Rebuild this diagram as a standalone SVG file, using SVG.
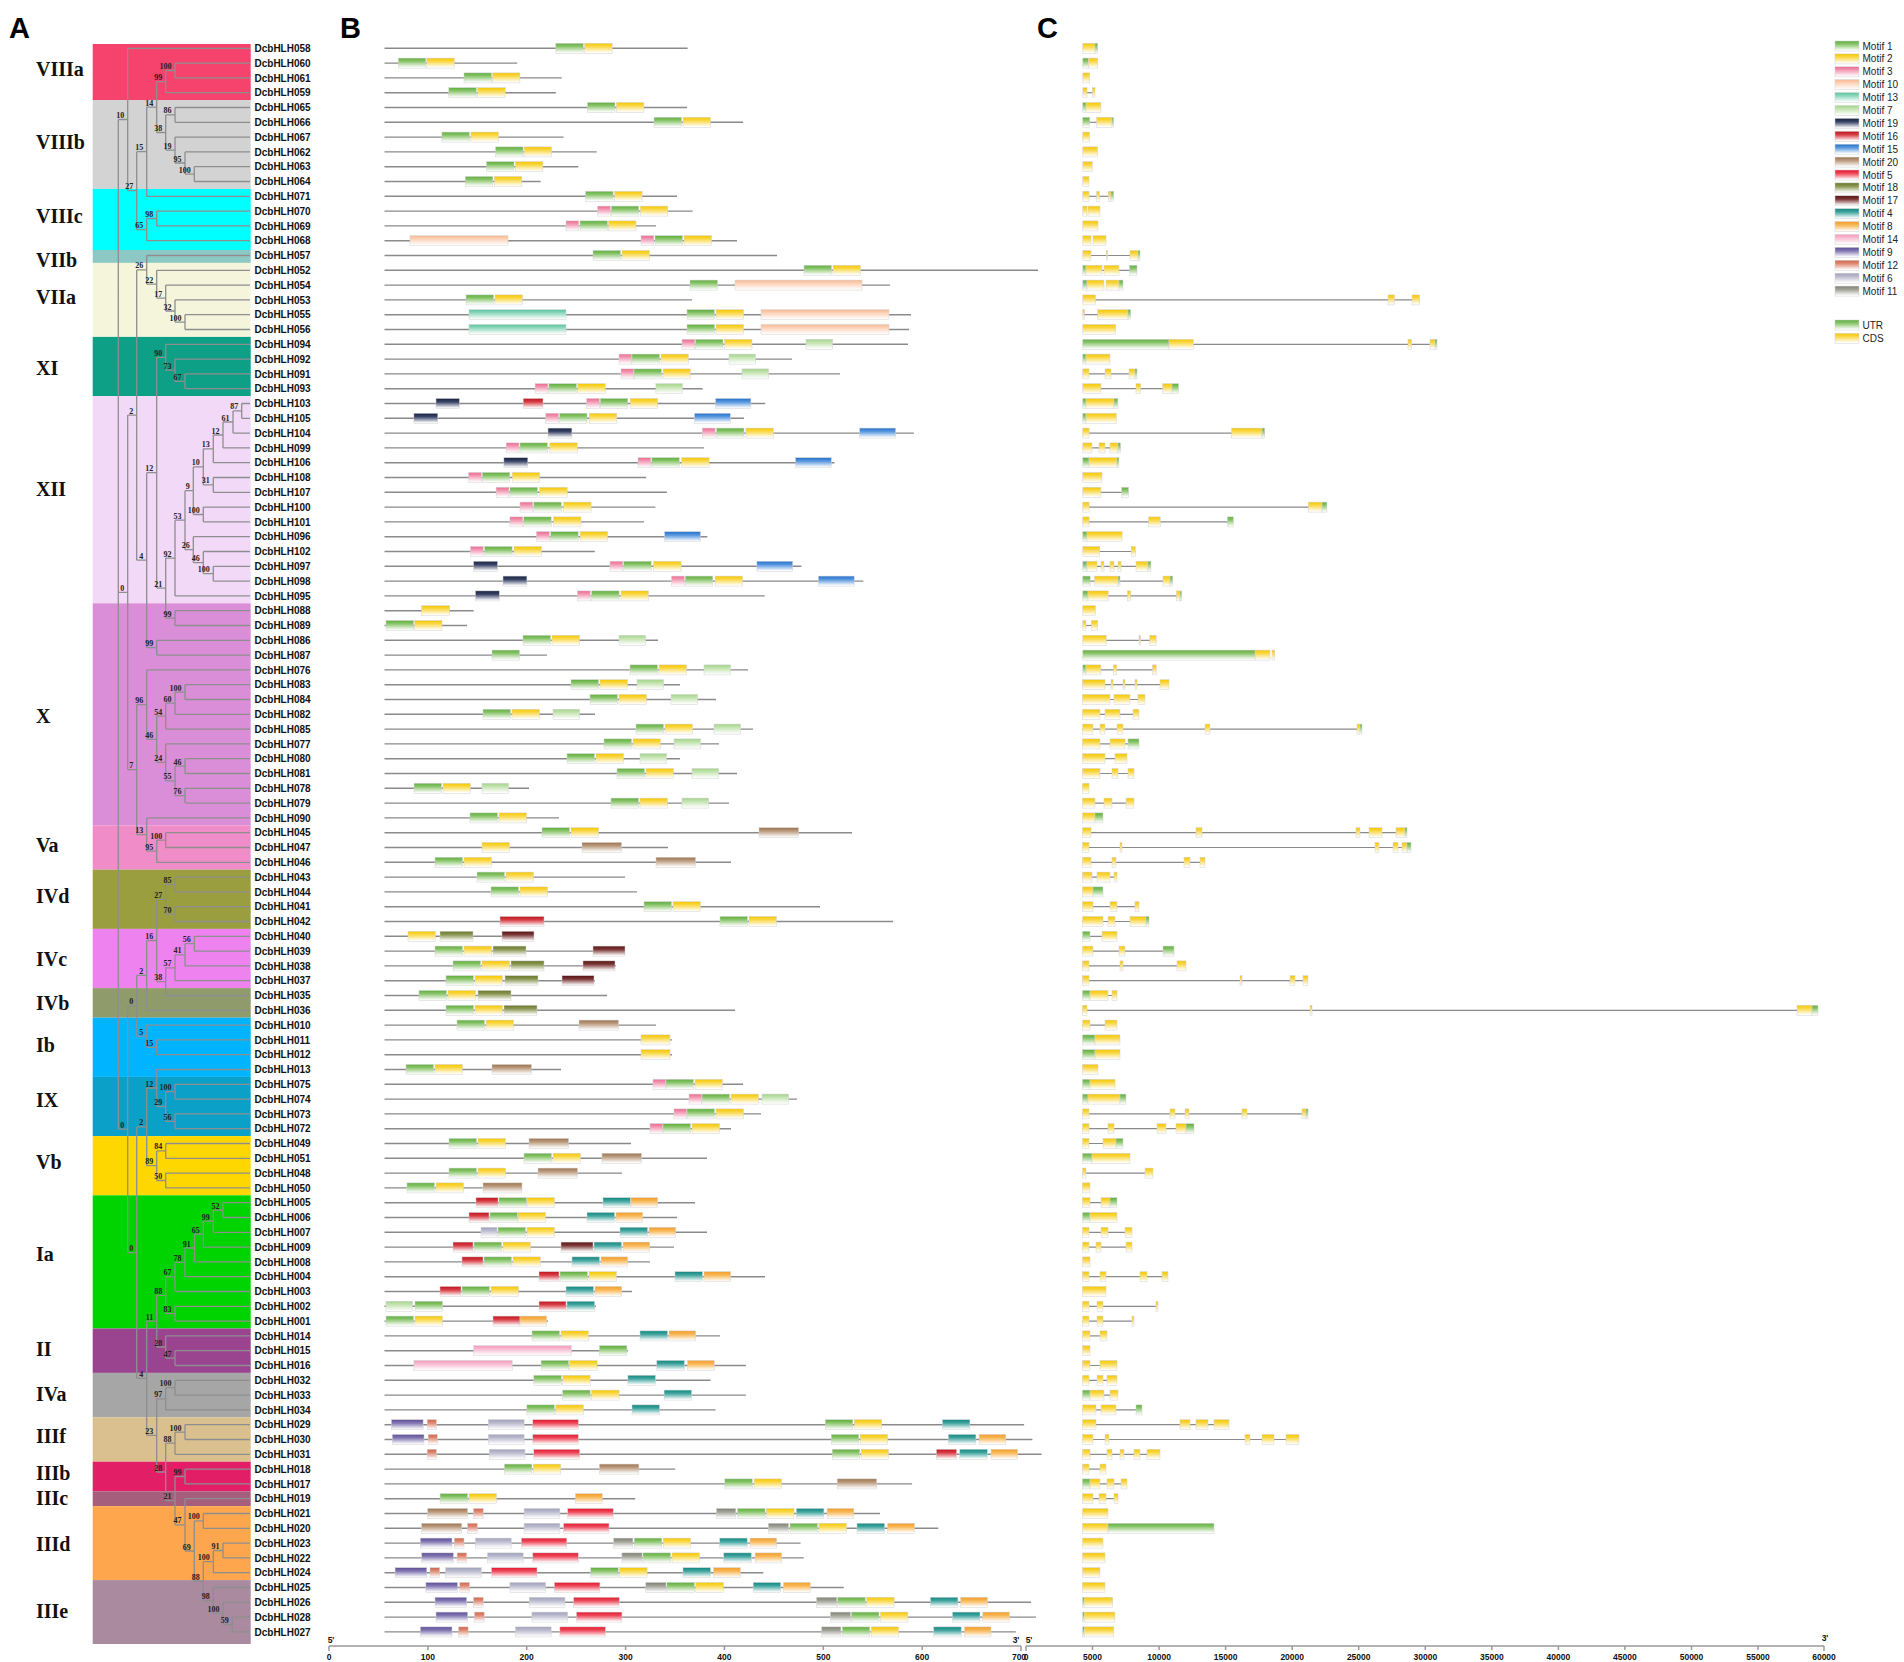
<svg xmlns="http://www.w3.org/2000/svg" width="1904" height="1662" viewBox="0 0 1904 1662">
<defs>
<linearGradient id="g1" x1="0" y1="0" x2="0" y2="1"><stop offset="0" stop-color="#5FAE40"/><stop offset=".3" stop-color="#86C366"/><stop offset=".95" stop-color="#fff"/></linearGradient>
<linearGradient id="g2" x1="0" y1="0" x2="0" y2="1"><stop offset="0" stop-color="#F5C800"/><stop offset=".3" stop-color="#F9D640"/><stop offset=".95" stop-color="#fff"/></linearGradient>
<linearGradient id="g3" x1="0" y1="0" x2="0" y2="1"><stop offset="0" stop-color="#EC6A90"/><stop offset=".3" stop-color="#F294B0"/><stop offset=".95" stop-color="#fff"/></linearGradient>
<linearGradient id="g10" x1="0" y1="0" x2="0" y2="1"><stop offset="0" stop-color="#F9B890"/><stop offset=".3" stop-color="#FCD0B4"/><stop offset=".95" stop-color="#fff"/></linearGradient>
<linearGradient id="g13" x1="0" y1="0" x2="0" y2="1"><stop offset="0" stop-color="#58C49C"/><stop offset=".3" stop-color="#8AD6BA"/><stop offset=".95" stop-color="#fff"/></linearGradient>
<linearGradient id="g7" x1="0" y1="0" x2="0" y2="1"><stop offset="0" stop-color="#A2D488"/><stop offset=".3" stop-color="#C0E2AC"/><stop offset=".95" stop-color="#fff"/></linearGradient>
<linearGradient id="g19" x1="0" y1="0" x2="0" y2="1"><stop offset="0" stop-color="#18223F"/><stop offset=".35" stop-color="#3A4568"/><stop offset=".95" stop-color="#fff"/></linearGradient>
<linearGradient id="g16" x1="0" y1="0" x2="0" y2="1"><stop offset="0" stop-color="#C0121C"/><stop offset=".35" stop-color="#D84048"/><stop offset=".95" stop-color="#fff"/></linearGradient>
<linearGradient id="g15" x1="0" y1="0" x2="0" y2="1"><stop offset="0" stop-color="#2470CC"/><stop offset=".35" stop-color="#5A98DE"/><stop offset=".95" stop-color="#fff"/></linearGradient>
<linearGradient id="g20" x1="0" y1="0" x2="0" y2="1"><stop offset="0" stop-color="#9C7450"/><stop offset=".35" stop-color="#BC9C80"/><stop offset=".95" stop-color="#fff"/></linearGradient>
<linearGradient id="g5" x1="0" y1="0" x2="0" y2="1"><stop offset="0" stop-color="#E4182F"/><stop offset=".35" stop-color="#EE4A5C"/><stop offset=".95" stop-color="#fff"/></linearGradient>
<linearGradient id="g18" x1="0" y1="0" x2="0" y2="1"><stop offset="0" stop-color="#687828"/><stop offset=".35" stop-color="#8C9856"/><stop offset=".95" stop-color="#fff"/></linearGradient>
<linearGradient id="g17" x1="0" y1="0" x2="0" y2="1"><stop offset="0" stop-color="#561010"/><stop offset=".35" stop-color="#7E3A3A"/><stop offset=".95" stop-color="#fff"/></linearGradient>
<linearGradient id="g4" x1="0" y1="0" x2="0" y2="1"><stop offset="0" stop-color="#108880"/><stop offset=".35" stop-color="#44A6A0"/><stop offset=".95" stop-color="#fff"/></linearGradient>
<linearGradient id="g8" x1="0" y1="0" x2="0" y2="1"><stop offset="0" stop-color="#F49C28"/><stop offset=".35" stop-color="#F8B858"/><stop offset=".95" stop-color="#fff"/></linearGradient>
<linearGradient id="g14" x1="0" y1="0" x2="0" y2="1"><stop offset="0" stop-color="#F49ABA"/><stop offset=".35" stop-color="#F8BCD2"/><stop offset=".95" stop-color="#fff"/></linearGradient>
<linearGradient id="g9" x1="0" y1="0" x2="0" y2="1"><stop offset="0" stop-color="#5E4E98"/><stop offset=".35" stop-color="#8478B2"/><stop offset=".95" stop-color="#fff"/></linearGradient>
<linearGradient id="g12" x1="0" y1="0" x2="0" y2="1"><stop offset="0" stop-color="#D0644A"/><stop offset=".35" stop-color="#E08C78"/><stop offset=".95" stop-color="#fff"/></linearGradient>
<linearGradient id="g6" x1="0" y1="0" x2="0" y2="1"><stop offset="0" stop-color="#A0A0BA"/><stop offset=".35" stop-color="#BCBCD0"/><stop offset=".95" stop-color="#fff"/></linearGradient>
<linearGradient id="g11" x1="0" y1="0" x2="0" y2="1"><stop offset="0" stop-color="#7E8074"/><stop offset=".35" stop-color="#A2A498"/><stop offset=".95" stop-color="#fff"/></linearGradient>
</defs>
<style>
.lbl{font:bold 10px "Liberation Sans",Arial,sans-serif;fill:#111}
.cl{font:bold 20px "Liberation Serif","Times New Roman",serif;fill:#111}
.bs{font:bold 8px "Liberation Serif","Times New Roman",serif;fill:#222;text-anchor:end}
.pl{font:bold 29px "Liberation Sans",Arial,sans-serif;fill:#000}
.tr{fill:none;stroke:#8e8e8e;stroke-width:1.3}
.ln{stroke:#8a8a8a;stroke-width:1.4;fill:none}
.in{stroke:#8a8a8a;stroke-width:1.2;fill:none}
.ax{font:bold 8.5px "Liberation Sans",Arial,sans-serif;fill:#111;text-anchor:middle}
.lg{font:10px "Liberation Sans",Arial,sans-serif;fill:#222}
.axl{stroke:#9a9a9a;stroke-width:1.5;fill:none}
#genes rect,#legend rect{stroke:#d2d2d2;stroke-width:.5}
.m1,.u{fill:url(#g1)}.m2,.c{fill:url(#g2)}.m3{fill:url(#g3)}.m10{fill:url(#g10)}.m13{fill:url(#g13)}.m7{fill:url(#g7)}.m19{fill:url(#g19)}.m16{fill:url(#g16)}.m15{fill:url(#g15)}.m20{fill:url(#g20)}.m5{fill:url(#g5)}.m18{fill:url(#g18)}.m17{fill:url(#g17)}.m4{fill:url(#g4)}.m8{fill:url(#g8)}.m14{fill:url(#g14)}.m9{fill:url(#g9)}.m12{fill:url(#g12)}.m6{fill:url(#g6)}.m11{fill:url(#g11)}
</style>
<rect width="1904" height="1662" fill="#fff"/>
<g id="panel-labels">
<text class="pl" x="9" y="38">A</text>
<text class="pl" x="340" y="38">B</text>
<text class="pl" x="1037" y="38">C</text>
</g>
<g id="clades">
<rect x="92.7" y="44" width="158" height="56" fill="#F5436D"/>
<rect x="92.7" y="100" width="158" height="88.9" fill="#D3D3D3"/>
<rect x="92.7" y="188.9" width="158" height="61.1" fill="#00FFFF"/>
<rect x="92.7" y="250" width="158" height="12.9" fill="#8CC8C4"/>
<rect x="92.7" y="262.9" width="158" height="74" fill="#F5F5DC"/>
<rect x="92.7" y="336.9" width="158" height="59.2" fill="#0E9F87"/>
<rect x="92.7" y="396.1" width="158" height="207.2" fill="#F3D9F8"/>
<rect x="92.7" y="603.3" width="158" height="222" fill="#DA8ED8"/>
<rect x="92.7" y="825.3" width="158" height="44.4" fill="#F08CC8"/>
<rect x="92.7" y="869.7" width="158" height="59.2" fill="#9A9E3E"/>
<rect x="92.7" y="928.9" width="158" height="59.2" fill="#EE82EE"/>
<rect x="92.7" y="988.1" width="158" height="29.6" fill="#8F9B6B"/>
<rect x="92.7" y="1017.7" width="158" height="59.2" fill="#00B4FF"/>
<rect x="92.7" y="1076.9" width="158" height="59.2" fill="#0AA0C8"/>
<rect x="92.7" y="1136.1" width="158" height="59.2" fill="#FFD700"/>
<rect x="92.7" y="1195.3" width="158" height="133.2" fill="#00D400"/>
<rect x="92.7" y="1328.5" width="158" height="44.4" fill="#9A4490"/>
<rect x="92.7" y="1372.9" width="158" height="44.4" fill="#A6A6A6"/>
<rect x="92.7" y="1417.3" width="158" height="44.4" fill="#D9C08E"/>
<rect x="92.7" y="1461.7" width="158" height="29.6" fill="#E21E66"/>
<rect x="92.7" y="1491.3" width="158" height="14.8" fill="#A55E7C"/>
<rect x="92.7" y="1506.1" width="158" height="74" fill="#FDA64E"/>
<rect x="92.7" y="1580.1" width="158" height="63.9" fill="#A98A9F"/>
<text class="cl" x="36" y="75.8">VIIIa</text>
<text class="cl" x="36" y="148.7">VIIIb</text>
<text class="cl" x="36" y="222.7">VIIIc</text>
<text class="cl" x="36" y="266.5">VIIb</text>
<text class="cl" x="36" y="304.1">VIIa</text>
<text class="cl" x="36" y="374.5">XI</text>
<text class="cl" x="36" y="496">XII</text>
<text class="cl" x="36" y="723">X</text>
<text class="cl" x="36" y="851.8">Va</text>
<text class="cl" x="36" y="902.8">IVd</text>
<text class="cl" x="36" y="965.9">IVc</text>
<text class="cl" x="36" y="1009.6">IVb</text>
<text class="cl" x="36" y="1052.1">Ib</text>
<text class="cl" x="36" y="1106.8">IX</text>
<text class="cl" x="36" y="1168.7">Vb</text>
<text class="cl" x="36" y="1261">Ia</text>
<text class="cl" x="36" y="1355.7">II</text>
<text class="cl" x="36" y="1400.6">IVa</text>
<text class="cl" x="36" y="1443.1">IIIf</text>
<text class="cl" x="36" y="1479.6">IIIb</text>
<text class="cl" x="36" y="1505.1">IIIc</text>
<text class="cl" x="36" y="1551.2">IIId</text>
<text class="cl" x="36" y="1618">IIIe</text>
</g>
<g id="tree">
<path class="tr" d="M175 63.1V77.9M175 63.1H250M175 77.9H250M165.7 70.5V92.7M165.7 70.5H175M165.7 92.7H250M175 107.5V122.3M175 107.5H250M175 122.3H250M194.3 166.7V181.5M194.3 166.7H250M194.3 181.5H250M185 151.9V174.1M185 151.9H250M185 174.1H194.3M175 137.1V163M175 137.1H250M175 163H185M165.7 114.9V150.1M165.7 114.9H175M165.7 150.1H175M156.7 81.6V132.5M156.7 81.6H165.7M156.7 132.5H165.7M146.7 107.1V196.3M146.7 107.1H156.7M146.7 196.3H250M156.7 211.1V225.9M156.7 211.1H250M156.7 225.9H250M146.7 218.5V240.7M146.7 218.5H156.7M146.7 240.7H250M136.7 151.7V229.6M136.7 151.7H146.7M136.7 229.6H146.7M127.7 48.3V190.7M127.7 48.3H250M127.7 190.7H136.7
M185 314.7V329.5M185 314.7H250M185 329.5H250M175 299.9V322.1M175 299.9H250M175 322.1H185M165.7 285.1V311M165.7 285.1H250M165.7 311H175M156.7 270.3V298.1M156.7 270.3H250M156.7 298.1H165.7M146.7 255.5V284.2M146.7 255.5H250M146.7 284.2H156.7
M185 373.9V388.7M185 373.9H250M185 388.7H250M175 359.1V381.3M175 359.1H250M175 381.3H185M165.7 344.3V370.2M165.7 344.3H250M165.7 370.2H175
M241.7 403.5V418.3M241.7 403.5H250M241.7 418.3H250M233 410.9V433.1M233 410.9H241.7M233 433.1H250M223 422V447.9M223 422H233M223 447.9H250M213.3 435V462.7M213.3 435H223M213.3 462.7H250M213.3 477.5V492.3M213.3 477.5H250M213.3 492.3H250M203.3 448.8V484.9M203.3 448.8H213.3M203.3 484.9H213.3M203.3 507.1V521.9M203.3 507.1H250M203.3 521.9H250M193.3 466.9V514.5M193.3 466.9H203.3M193.3 514.5H203.3M213.3 566.3V581.1M213.3 566.3H250M213.3 581.1H250M203.3 551.5V573.7M203.3 551.5H250M203.3 573.7H213.3M193.3 536.7V562.6M193.3 536.7H250M193.3 562.6H203.3M185 490.7V549.7M185 490.7H193.3M185 549.7H193.3M175 520.2V595.9M175 520.2H185M175 595.9H250M175 610.7V625.5M175 610.7H250M175 625.5H250M165.7 558.1V618.1M165.7 558.1H175M165.7 618.1H175M156.7 357.3V588.1M156.7 357.3H165.7M156.7 588.1H165.7M156.7 640.3V655.1M156.7 640.3H250M156.7 655.1H250M146.7 472.7V647.7M146.7 472.7H156.7M146.7 647.7H156.7M136.7 269.9V560.2M136.7 269.9H146.7M136.7 560.2H146.7
M185 684.7V699.5M185 684.7H250M185 699.5H250M175 692.1V714.3M175 692.1H185M175 714.3H250M165.7 703.2V729.1M165.7 703.2H175M165.7 729.1H250M185 758.7V773.5M185 758.7H250M185 773.5H250M185 788.3V803.1M185 788.3H250M185 803.1H250M175 766.1V795.7M175 766.1H185M175 795.7H185M165.7 743.9V780.9M165.7 743.9H250M165.7 780.9H175M156.7 716.2V762.4M156.7 716.2H165.7M156.7 762.4H165.7M146.7 669.9V739.3M146.7 669.9H250M146.7 739.3H156.7M165.7 832.7V847.5M165.7 832.7H250M165.7 847.5H250M156.7 840.1V862.3M156.7 840.1H165.7M156.7 862.3H250M146.7 817.9V851.2M146.7 817.9H250M146.7 851.2H156.7M136.7 704.6V834.6M136.7 704.6H146.7M136.7 834.6H146.7M127.7 415.1V769.6M127.7 415.1H136.7M127.7 769.6H136.7
M175 877.1V891.9M175 877.1H250M175 891.9H250M175 906.7V921.5M175 906.7H250M175 921.5H250M165.7 884.5V914.1M165.7 884.5H175M165.7 914.1H175M194.3 936.3V951.1M194.3 936.3H250M194.3 951.1H250M185 943.7V965.9M185 943.7H194.3M185 965.9H250M175 954.8V980.7M175 954.8H185M175 980.7H250M165.7 967.8V995.5M165.7 967.8H175M165.7 995.5H250M156.7 899.3V981.6M156.7 899.3H165.7M156.7 981.6H165.7M146.7 940.5V1010.3M146.7 940.5H156.7M146.7 1010.3H250M156.7 1039.9V1054.7M156.7 1039.9H250M156.7 1054.7H250M146.7 1025.1V1047.3M146.7 1025.1H250M146.7 1047.3H156.7M136.7 975.4V1036.2M136.7 975.4H146.7M136.7 1036.2H146.7
M175 1084.3V1099.1M175 1084.3H250M175 1099.1H250M175 1113.9V1128.7M175 1113.9H250M175 1128.7H250M165.7 1091.7V1121.3M165.7 1091.7H175M165.7 1121.3H175M156.7 1069.5V1106.5M156.7 1069.5H250M156.7 1106.5H165.7M165.7 1143.5V1158.3M165.7 1143.5H250M165.7 1158.3H250M165.7 1173.1V1187.9M165.7 1173.1H250M165.7 1187.9H250M156.7 1150.9V1180.5M156.7 1150.9H165.7M156.7 1180.5H165.7M146.7 1088V1165.7M146.7 1088H156.7M146.7 1165.7H156.7
M223 1202.7V1217.5M223 1202.7H250M223 1217.5H250M213.3 1210.1V1232.3M213.3 1210.1H223M213.3 1232.3H250M203.3 1221.2V1247.1M203.3 1221.2H213.3M203.3 1247.1H250M194.3 1234.2V1261.9M194.3 1234.2H203.3M194.3 1261.9H250M185 1248V1276.7M185 1248H194.3M185 1276.7H250M175 1262.4V1291.5M175 1262.4H185M175 1291.5H250M175 1306.3V1321.1M175 1306.3H250M175 1321.1H250M165.7 1276.9V1313.7M165.7 1276.9H175M165.7 1313.7H175M175 1350.7V1365.5M175 1350.7H250M175 1365.5H250M165.7 1335.9V1358.1M165.7 1335.9H250M165.7 1358.1H175M156.7 1295.3V1347M156.7 1295.3H165.7M156.7 1347H165.7
M175 1380.3V1395.1M175 1380.3H250M175 1395.1H250M165.7 1387.7V1409.9M165.7 1387.7H175M165.7 1409.9H250M185 1424.7V1439.5M185 1424.7H250M185 1439.5H250M175 1432.1V1454.3M175 1432.1H185M175 1454.3H250M185 1469.1V1483.9M185 1469.1H250M185 1483.9H250M203.3 1513.5V1528.3M203.3 1513.5H250M203.3 1528.3H250M223 1543.1V1557.9M223 1543.1H250M223 1557.9H250M213.3 1550.5V1572.7M213.3 1550.5H223M213.3 1572.7H250M232.3 1617.1V1631.9M232.3 1617.1H250M232.3 1631.9H250M223 1602.3V1624.5M223 1602.3H250M223 1624.5H232.3M213.3 1587.5V1613.4M213.3 1587.5H250M213.3 1613.4H223M203.3 1561.6V1600.5M203.3 1561.6H213.3M203.3 1600.5H213.3M194.3 1520.9V1581M194.3 1520.9H203.3M194.3 1581H203.3M185 1498.7V1551M185 1498.7H250M185 1551H194.3M175 1476.5V1524.9M175 1476.5H185M175 1524.9H185M165.7 1443.2V1500.7M165.7 1443.2H175M165.7 1500.7H175M156.7 1398.8V1472M156.7 1398.8H165.7M156.7 1472H165.7M146.7 1321.2V1435.4M146.7 1321.2H156.7M146.7 1435.4H156.7M136.7 1126.9V1378.3M136.7 1126.9H146.7M136.7 1378.3H146.7M127.7 1005.8V1252.6M127.7 1005.8H136.7M127.7 1252.6H136.7M118.3 119.5V1129.2M118.3 119.5H127.7M118.3 592.4H127.7M118.3 1129.2H127.7"/>
<text class="bs" x="171.5" y="69">100</text><text class="bs" x="162.2" y="80.1">99</text><text class="bs" x="171.5" y="113.4">86</text><text class="bs" x="190.8" y="172.6">100</text><text class="bs" x="181.5" y="161.5">95</text><text class="bs" x="171.5" y="148.6">19</text><text class="bs" x="162.2" y="131">38</text><text class="bs" x="153.2" y="105.6">14</text><text class="bs" x="143.2" y="150.2">15</text><text class="bs" x="153.2" y="217">98</text><text class="bs" x="143.2" y="228.1">65</text><text class="bs" x="133.2" y="189.2">27</text><text class="bs" x="124.2" y="118">10</text>
<text class="bs" x="143.2" y="268.4">26</text><text class="bs" x="153.2" y="282.7">22</text><text class="bs" x="162.2" y="296.6">17</text><text class="bs" x="171.5" y="309.5">32</text><text class="bs" x="181.5" y="320.6">100</text>
<text class="bs" x="162.2" y="355.8">90</text><text class="bs" x="171.5" y="368.7">73</text><text class="bs" x="181.5" y="379.8">67</text>
<text class="bs" x="238.2" y="409.4">87</text><text class="bs" x="229.5" y="420.5">61</text><text class="bs" x="219.5" y="433.5">12</text><text class="bs" x="209.8" y="447.3">13</text><text class="bs" x="209.8" y="483.4">31</text><text class="bs" x="199.8" y="465.4">10</text><text class="bs" x="199.8" y="513">100</text><text class="bs" x="189.8" y="489.2">9</text><text class="bs" x="209.8" y="572.2">100</text><text class="bs" x="199.8" y="561.1">46</text><text class="bs" x="189.8" y="548.2">26</text><text class="bs" x="181.5" y="518.7">53</text><text class="bs" x="171.5" y="556.6">92</text><text class="bs" x="171.5" y="616.6">99</text><text class="bs" x="162.2" y="586.6">21</text><text class="bs" x="153.2" y="471.2">12</text><text class="bs" x="153.2" y="646.2">99</text><text class="bs" x="143.2" y="558.7">4</text><text class="bs" x="133.2" y="413.5">2</text>
<text class="bs" x="181.5" y="690.6">100</text><text class="bs" x="171.5" y="701.7">60</text><text class="bs" x="162.2" y="714.7">54</text><text class="bs" x="181.5" y="764.6">46</text><text class="bs" x="181.5" y="794.2">76</text><text class="bs" x="171.5" y="779.4">55</text><text class="bs" x="162.2" y="760.9">24</text><text class="bs" x="153.2" y="737.8">46</text><text class="bs" x="143.2" y="703.1">96</text><text class="bs" x="162.2" y="838.6">100</text><text class="bs" x="153.2" y="849.7">95</text><text class="bs" x="143.2" y="833.1">13</text><text class="bs" x="133.2" y="768.1">7</text><text class="bs" x="124.2" y="590.9">0</text>
<text class="bs" x="171.5" y="883">85</text><text class="bs" x="171.5" y="912.6">70</text><text class="bs" x="162.2" y="897.8">27</text><text class="bs" x="190.8" y="942.2">56</text><text class="bs" x="181.5" y="953.3">41</text><text class="bs" x="171.5" y="966.3">57</text><text class="bs" x="162.2" y="980.1">38</text><text class="bs" x="153.2" y="939">16</text><text class="bs" x="143.2" y="973.9">2</text><text class="bs" x="153.2" y="1045.8">15</text><text class="bs" x="143.2" y="1034.7">5</text><text class="bs" x="133.2" y="1004.3">0</text>
<text class="bs" x="171.5" y="1090.2">100</text><text class="bs" x="171.5" y="1119.8">56</text><text class="bs" x="162.2" y="1105">29</text><text class="bs" x="153.2" y="1086.5">12</text><text class="bs" x="162.2" y="1149.4">84</text><text class="bs" x="162.2" y="1179">50</text><text class="bs" x="153.2" y="1164.2">89</text><text class="bs" x="143.2" y="1125.4">2</text>
<text class="bs" x="219.5" y="1208.6">52</text><text class="bs" x="209.8" y="1219.7">99</text><text class="bs" x="199.8" y="1232.7">65</text><text class="bs" x="190.8" y="1246.5">91</text><text class="bs" x="181.5" y="1260.9">78</text><text class="bs" x="171.5" y="1275.4">67</text><text class="bs" x="171.5" y="1312.2">83</text><text class="bs" x="162.2" y="1293.8">88</text><text class="bs" x="171.5" y="1356.6">47</text><text class="bs" x="162.2" y="1345.5">28</text><text class="bs" x="153.2" y="1319.7">11</text>
<text class="bs" x="171.5" y="1386.2">100</text><text class="bs" x="162.2" y="1397.3">97</text><text class="bs" x="181.5" y="1430.6">100</text><text class="bs" x="171.5" y="1441.7">88</text><text class="bs" x="181.5" y="1475">99</text><text class="bs" x="199.8" y="1519.4">100</text><text class="bs" x="219.5" y="1549">91</text><text class="bs" x="209.8" y="1560.1">100</text><text class="bs" x="228.8" y="1623">59</text><text class="bs" x="219.5" y="1611.9">100</text><text class="bs" x="209.8" y="1599">98</text><text class="bs" x="199.8" y="1579.5">88</text><text class="bs" x="190.8" y="1549.5">69</text><text class="bs" x="181.5" y="1523.3">47</text><text class="bs" x="171.5" y="1499.2">21</text><text class="bs" x="162.2" y="1470.5">28</text><text class="bs" x="153.2" y="1433.9">23</text><text class="bs" x="143.2" y="1376.8">4</text><text class="bs" x="133.2" y="1251.1">0</text><text class="bs" x="124.2" y="1127.7">0</text>
</g>
<g id="genes">
<g id="DcbHLH058" transform="translate(0 48.3)"><text class="lbl" x="254.5" y="3.6">DcbHLH058</text><path class="ln" d="M384.5 0H687.6"/><rect class="m1" x="555.8" y="-5" width="27.5" height="10"/><rect class="m2" x="584.7" y="-5" width="27.5" height="10"/><path class="in" d="M1082.8 0H1097.7"/><rect class="c" x="1082.8" y="-5" width="12.2" height="10"/><rect class="u" x="1095" y="-5" width="2.7" height="10"/></g>
<g id="DcbHLH060" transform="translate(0 63.1)"><text class="lbl" x="254.5" y="3.6">DcbHLH060</text><path class="ln" d="M384.5 0H517.2"/><rect class="m1" x="398.3" y="-5" width="27.5" height="10"/><rect class="m2" x="426.8" y="-5" width="27.5" height="10"/><rect class="u" x="1082.8" y="-5" width="5.7" height="10"/><rect class="c" x="1088.5" y="-5" width="9.2" height="10"/></g>
<g id="DcbHLH061" transform="translate(0 77.9)"><text class="lbl" x="254.5" y="3.6">DcbHLH061</text><path class="ln" d="M384.5 0H561.8"/><rect class="m1" x="464" y="-5" width="27.5" height="10"/><rect class="m2" x="492.4" y="-5" width="27.5" height="10"/><rect class="c" x="1082.8" y="-5" width="6.9" height="10"/></g>
<g id="DcbHLH059" transform="translate(0 92.7)"><text class="lbl" x="254.5" y="3.6">DcbHLH059</text><path class="ln" d="M384.5 0H555.8"/><rect class="m1" x="448.8" y="-5" width="27.5" height="10"/><rect class="m2" x="477.7" y="-5" width="27.5" height="10"/><path class="in" d="M1082.8 0H1095"/><rect class="c" x="1082.8" y="-5" width="4.2" height="10"/><rect class="c" x="1092.3" y="-5" width="2.7" height="10"/></g>
<g id="DcbHLH065" transform="translate(0 107.5)"><text class="lbl" x="254.5" y="3.6">DcbHLH065</text><path class="ln" d="M384.5 0H687.1"/><rect class="m1" x="587.5" y="-5" width="27.5" height="10"/><rect class="m2" x="616.4" y="-5" width="27.5" height="10"/><rect class="u" x="1082.8" y="-5" width="3.2" height="10"/><rect class="c" x="1086" y="-5" width="14.9" height="10"/></g>
<g id="DcbHLH066" transform="translate(0 122.3)"><text class="lbl" x="254.5" y="3.6">DcbHLH066</text><path class="ln" d="M384.5 0H743.1"/><rect class="m1" x="654" y="-5" width="27.5" height="10"/><rect class="m2" x="683" y="-5" width="27.5" height="10"/><path class="in" d="M1082.8 0H1113.6"/><rect class="u" x="1082.8" y="-5" width="6.9" height="10"/><rect class="c" x="1096.6" y="-5" width="15.4" height="10"/><rect class="u" x="1112" y="-5" width="1.6" height="10"/></g>
<g id="DcbHLH067" transform="translate(0 137.1)"><text class="lbl" x="254.5" y="3.6">DcbHLH067</text><path class="ln" d="M384.5 0H563.6"/><rect class="m1" x="441.9" y="-5" width="27.5" height="10"/><rect class="m2" x="470.9" y="-5" width="27.5" height="10"/><rect class="c" x="1082.8" y="-5" width="6.9" height="10"/></g>
<g id="DcbHLH062" transform="translate(0 151.9)"><text class="lbl" x="254.5" y="3.6">DcbHLH062</text><path class="ln" d="M384.5 0H596.7"/><rect class="m1" x="495.6" y="-5" width="27.5" height="10"/><rect class="m2" x="524.1" y="-5" width="27.5" height="10"/><rect class="c" x="1082.8" y="-5" width="14.9" height="10"/></g>
<g id="DcbHLH063" transform="translate(0 166.7)"><text class="lbl" x="254.5" y="3.6">DcbHLH063</text><path class="ln" d="M384.5 0H578.3"/><rect class="m1" x="486.5" y="-5" width="27.5" height="10"/><rect class="m2" x="515.4" y="-5" width="27.5" height="10"/><rect class="c" x="1082.8" y="-5" width="9.5" height="10"/></g>
<g id="DcbHLH064" transform="translate(0 181.5)"><text class="lbl" x="254.5" y="3.6">DcbHLH064</text><path class="ln" d="M384.5 0H540.6"/><rect class="m1" x="465.3" y="-5" width="27.5" height="10"/><rect class="m2" x="494.3" y="-5" width="27.5" height="10"/><rect class="c" x="1082.8" y="-5" width="6.2" height="10"/></g>
<g id="DcbHLH071" transform="translate(0 196.3)"><text class="lbl" x="254.5" y="3.6">DcbHLH071</text><path class="ln" d="M384.5 0H677"/><rect class="m1" x="585.6" y="-5" width="27.5" height="10"/><rect class="m2" x="614.6" y="-5" width="27.5" height="10"/><path class="in" d="M1082.8 0H1113.6"/><rect class="c" x="1082.8" y="-5" width="6.2" height="10"/><rect class="c" x="1096.6" y="-5" width="2.7" height="10"/><rect class="c" x="1108.3" y="-5" width="2.7" height="10"/><rect class="u" x="1111" y="-5" width="2.6" height="10"/></g>
<g id="DcbHLH070" transform="translate(0 211.1)"><text class="lbl" x="254.5" y="3.6">DcbHLH070</text><path class="ln" d="M384.5 0H692.6"/><rect class="m3" x="597.6" y="-5" width="12.8" height="10"/><rect class="m1" x="611.3" y="-5" width="27.5" height="10"/><rect class="m2" x="640.3" y="-5" width="27.5" height="10"/><rect class="c" x="1082.8" y="-5" width="4.2" height="10"/><rect class="c" x="1088" y="-5" width="12" height="10"/></g>
<g id="DcbHLH069" transform="translate(0 225.9)"><text class="lbl" x="254.5" y="3.6">DcbHLH069</text><path class="ln" d="M384.5 0H656"/><rect class="m3" x="566" y="-5" width="12.8" height="10"/><rect class="m1" x="580" y="-5" width="27.5" height="10"/><rect class="m2" x="608.5" y="-5" width="27.5" height="10"/><rect class="c" x="1082.8" y="-5" width="15.2" height="10"/></g>
<g id="DcbHLH068" transform="translate(0 240.7)"><text class="lbl" x="254.5" y="3.6">DcbHLH068</text><path class="ln" d="M384.5 0H737"/><rect class="m10" x="410" y="-5" width="98" height="10"/><rect class="m3" x="641" y="-5" width="12.8" height="10"/><rect class="m1" x="655" y="-5" width="27.5" height="10"/><rect class="m2" x="684" y="-5" width="27.5" height="10"/><rect class="c" x="1082.8" y="-5" width="8.2" height="10"/><rect class="c" x="1093" y="-5" width="13" height="10"/></g>
<g id="DcbHLH057" transform="translate(0 255.5)"><text class="lbl" x="254.5" y="3.6">DcbHLH057</text><path class="ln" d="M384.5 0H777"/><rect class="m1" x="593" y="-5" width="27.5" height="10"/><rect class="m2" x="622" y="-5" width="27.5" height="10"/><path class="in" d="M1082.8 0H1140"/><rect class="c" x="1082.8" y="-5" width="8.2" height="10"/><rect class="c" x="1106.5" y="-5" width="1.2" height="10"/><rect class="c" x="1130" y="-5" width="8" height="10"/><rect class="u" x="1138" y="-5" width="2" height="10"/></g>
<g id="DcbHLH052" transform="translate(0 270.3)"><text class="lbl" x="254.5" y="3.6">DcbHLH052</text><path class="ln" d="M384.5 0H1038"/><rect class="m1" x="804" y="-5" width="27.5" height="10"/><rect class="m2" x="833" y="-5" width="27.5" height="10"/><path class="in" d="M1082.8 0H1137"/><rect class="u" x="1082.8" y="-5" width="3.2" height="10"/><rect class="c" x="1086" y="-5" width="16" height="10"/><rect class="c" x="1104" y="-5" width="15" height="10"/><rect class="u" x="1129.6" y="-5" width="7.4" height="10"/></g>
<g id="DcbHLH054" transform="translate(0 285.1)"><text class="lbl" x="254.5" y="3.6">DcbHLH054</text><path class="ln" d="M384.5 0H890"/><rect class="m1" x="690" y="-5" width="27.5" height="10"/><rect class="m10" x="735" y="-5" width="127" height="10"/><rect class="u" x="1082.8" y="-5" width="4.2" height="10"/><rect class="c" x="1087" y="-5" width="17" height="10"/><rect class="c" x="1106" y="-5" width="13" height="10"/><rect class="u" x="1119" y="-5" width="4" height="10"/></g>
<g id="DcbHLH053" transform="translate(0 299.9)"><text class="lbl" x="254.5" y="3.6">DcbHLH053</text><path class="ln" d="M384.5 0H692"/><rect class="m1" x="466" y="-5" width="27.5" height="10"/><rect class="m2" x="495" y="-5" width="27.5" height="10"/><path class="in" d="M1082.8 0H1419.5"/><rect class="c" x="1082.8" y="-5" width="12.7" height="10"/><rect class="c" x="1388" y="-5" width="6.5" height="10"/><rect class="c" x="1412" y="-5" width="7.5" height="10"/></g>
<g id="DcbHLH055" transform="translate(0 314.7)"><text class="lbl" x="254.5" y="3.6">DcbHLH055</text><path class="ln" d="M384.5 0H911"/><rect class="m13" x="469" y="-5" width="97" height="10"/><rect class="m1" x="687" y="-5" width="27.5" height="10"/><rect class="m2" x="716" y="-5" width="27.5" height="10"/><rect class="m10" x="761" y="-5" width="128" height="10"/><path class="in" d="M1082.8 0H1130.6"/><rect class="c" x="1082.8" y="-5" width="1.7" height="10"/><rect class="c" x="1097.7" y="-5" width="30.3" height="10"/><rect class="u" x="1128" y="-5" width="2.6" height="10"/></g>
<g id="DcbHLH056" transform="translate(0 329.5)"><text class="lbl" x="254.5" y="3.6">DcbHLH056</text><path class="ln" d="M384.5 0H909"/><rect class="m13" x="469" y="-5" width="97" height="10"/><rect class="m1" x="687" y="-5" width="27.5" height="10"/><rect class="m2" x="716" y="-5" width="27.5" height="10"/><rect class="m10" x="761" y="-5" width="128" height="10"/><rect class="c" x="1082.8" y="-5" width="32.9" height="10"/></g>
<g id="DcbHLH094" transform="translate(0 344.3)"><text class="lbl" x="254.5" y="3.6">DcbHLH094</text><path class="ln" d="M384.5 0H908"/><rect class="m3" x="682" y="-5" width="12.8" height="10"/><rect class="m1" x="695.5" y="-5" width="27.5" height="10"/><rect class="m2" x="724.5" y="-5" width="27.5" height="10"/><rect class="m7" x="806" y="-5" width="26.6" height="10"/><path class="in" d="M1082.8 0H1437"/><rect class="u" x="1082.8" y="-5" width="86.2" height="10"/><rect class="c" x="1169" y="-5" width="24.4" height="10"/><rect class="c" x="1408" y="-5" width="3.5" height="10"/><rect class="c" x="1430" y="-5" width="5" height="10"/><rect class="u" x="1435" y="-5" width="2" height="10"/></g>
<g id="DcbHLH092" transform="translate(0 359.1)"><text class="lbl" x="254.5" y="3.6">DcbHLH092</text><path class="ln" d="M384.5 0H792"/><rect class="m3" x="619" y="-5" width="12.8" height="10"/><rect class="m1" x="632" y="-5" width="27.5" height="10"/><rect class="m2" x="661" y="-5" width="27.5" height="10"/><rect class="m7" x="729" y="-5" width="26.6" height="10"/><rect class="u" x="1082.8" y="-5" width="3.2" height="10"/><rect class="c" x="1086" y="-5" width="24" height="10"/></g>
<g id="DcbHLH091" transform="translate(0 373.9)"><text class="lbl" x="254.5" y="3.6">DcbHLH091</text><path class="ln" d="M384.5 0H840"/><rect class="m3" x="621" y="-5" width="12.8" height="10"/><rect class="m1" x="634" y="-5" width="27.5" height="10"/><rect class="m2" x="663" y="-5" width="27.5" height="10"/><rect class="m7" x="742" y="-5" width="26.6" height="10"/><path class="in" d="M1082.8 0H1137"/><rect class="c" x="1082.8" y="-5" width="6.2" height="10"/><rect class="c" x="1105" y="-5" width="6" height="10"/><rect class="c" x="1129" y="-5" width="6" height="10"/><rect class="u" x="1135" y="-5" width="2" height="10"/></g>
<g id="DcbHLH093" transform="translate(0 388.7)"><text class="lbl" x="254.5" y="3.6">DcbHLH093</text><path class="ln" d="M384.5 0H702.7"/><rect class="m3" x="535.1" y="-5" width="12.8" height="10"/><rect class="m1" x="548.9" y="-5" width="27.5" height="10"/><rect class="m2" x="577.8" y="-5" width="27.5" height="10"/><rect class="m7" x="655.9" y="-5" width="26.6" height="10"/><path class="in" d="M1082.8 0H1178.5"/><rect class="c" x="1082.8" y="-5" width="18.1" height="10"/><rect class="c" x="1136" y="-5" width="4.7" height="10"/><rect class="c" x="1162.6" y="-5" width="9.4" height="10"/><rect class="u" x="1172" y="-5" width="6.5" height="10"/></g>
<g id="DcbHLH103" transform="translate(0 403.5)"><text class="lbl" x="254.5" y="3.6">DcbHLH103</text><path class="ln" d="M384.5 0H765.2"/><rect class="m19" x="436" y="-5" width="23.4" height="10"/><rect class="m16" x="523.2" y="-5" width="19.8" height="10"/><rect class="m3" x="586.6" y="-5" width="12.8" height="10"/><rect class="m1" x="600.3" y="-5" width="27.5" height="10"/><rect class="m2" x="630.2" y="-5" width="27.5" height="10"/><rect class="m15" x="715.6" y="-5" width="35.3" height="10"/><rect class="u" x="1082.8" y="-5" width="3.2" height="10"/><rect class="c" x="1086" y="-5" width="28" height="10"/><rect class="u" x="1114" y="-5" width="3.9" height="10"/></g>
<g id="DcbHLH105" transform="translate(0 418.3)"><text class="lbl" x="254.5" y="3.6">DcbHLH105</text><path class="ln" d="M384.5 0H744"/><rect class="m19" x="413.9" y="-5" width="23.9" height="10"/><rect class="m3" x="545.7" y="-5" width="12.8" height="10"/><rect class="m1" x="559.5" y="-5" width="27.5" height="10"/><rect class="m2" x="589.3" y="-5" width="27.5" height="10"/><rect class="m15" x="694.5" y="-5" width="35.8" height="10"/><rect class="u" x="1082.8" y="-5" width="3.2" height="10"/><rect class="c" x="1086" y="-5" width="30.3" height="10"/></g>
<g id="DcbHLH104" transform="translate(0 433.1)"><text class="lbl" x="254.5" y="3.6">DcbHLH104</text><path class="ln" d="M384.5 0H913.9"/><rect class="m19" x="548" y="-5" width="23.9" height="10"/><rect class="m3" x="702.3" y="-5" width="12.8" height="10"/><rect class="m1" x="716.5" y="-5" width="27.5" height="10"/><rect class="m2" x="745.9" y="-5" width="27.5" height="10"/><rect class="m15" x="859.7" y="-5" width="35.9" height="10"/><path class="in" d="M1082.8 0H1264.7"/><rect class="c" x="1082.8" y="-5" width="6.3" height="10"/><rect class="c" x="1231.7" y="-5" width="30.3" height="10"/><rect class="u" x="1262" y="-5" width="2.7" height="10"/></g>
<g id="DcbHLH099" transform="translate(0 447.9)"><text class="lbl" x="254.5" y="3.6">DcbHLH099</text><path class="ln" d="M384.5 0H704.1"/><rect class="m3" x="506.2" y="-5" width="12.8" height="10"/><rect class="m1" x="520" y="-5" width="27.5" height="10"/><rect class="m2" x="549.8" y="-5" width="27.5" height="10"/><path class="in" d="M1082.8 0H1120.5"/><rect class="c" x="1082.8" y="-5" width="9.2" height="10"/><rect class="c" x="1099" y="-5" width="6" height="10"/><rect class="c" x="1110" y="-5" width="8" height="10"/><rect class="u" x="1118" y="-5" width="2.5" height="10"/></g>
<g id="DcbHLH106" transform="translate(0 462.7)"><text class="lbl" x="254.5" y="3.6">DcbHLH106</text><path class="ln" d="M384.5 0H834.5"/><rect class="m19" x="503.9" y="-5" width="23.9" height="10"/><rect class="m3" x="638" y="-5" width="12.8" height="10"/><rect class="m1" x="651.8" y="-5" width="27.5" height="10"/><rect class="m2" x="681.6" y="-5" width="27.5" height="10"/><rect class="m15" x="795.5" y="-5" width="35.8" height="10"/><rect class="u" x="1082.8" y="-5" width="6.2" height="10"/><rect class="c" x="1089" y="-5" width="28" height="10"/><rect class="u" x="1117" y="-5" width="1.9" height="10"/></g>
<g id="DcbHLH108" transform="translate(0 477.5)"><text class="lbl" x="254.5" y="3.6">DcbHLH108</text><path class="ln" d="M384.5 0H646.2"/><rect class="m3" x="468.6" y="-5" width="12.8" height="10"/><rect class="m1" x="482.3" y="-5" width="27.5" height="10"/><rect class="m2" x="512.2" y="-5" width="27.5" height="10"/><rect class="c" x="1082.8" y="-5" width="19.2" height="10"/></g>
<g id="DcbHLH107" transform="translate(0 492.3)"><text class="lbl" x="254.5" y="3.6">DcbHLH107</text><path class="ln" d="M384.5 0H666.9"/><rect class="m3" x="496.1" y="-5" width="12.8" height="10"/><rect class="m1" x="509.9" y="-5" width="27.5" height="10"/><rect class="m2" x="539.7" y="-5" width="27.5" height="10"/><path class="in" d="M1082.8 0H1128.5"/><rect class="c" x="1082.8" y="-5" width="18.1" height="10"/><rect class="u" x="1121.6" y="-5" width="6.9" height="10"/></g>
<g id="DcbHLH100" transform="translate(0 507.1)"><text class="lbl" x="254.5" y="3.6">DcbHLH100</text><path class="ln" d="M384.5 0H655.4"/><rect class="m3" x="520" y="-5" width="12.8" height="10"/><rect class="m1" x="533.8" y="-5" width="27.5" height="10"/><rect class="m2" x="563.6" y="-5" width="27.5" height="10"/><path class="in" d="M1082.8 0H1326.9"/><rect class="c" x="1082.8" y="-5" width="6.3" height="10"/><rect class="c" x="1308.3" y="-5" width="13.7" height="10"/><rect class="u" x="1322" y="-5" width="4.9" height="10"/></g>
<g id="DcbHLH101" transform="translate(0 521.9)"><text class="lbl" x="254.5" y="3.6">DcbHLH101</text><path class="ln" d="M384.5 0H644"/><rect class="m3" x="509.9" y="-5" width="12.8" height="10"/><rect class="m1" x="523.7" y="-5" width="27.5" height="10"/><rect class="m2" x="553.5" y="-5" width="27.5" height="10"/><path class="in" d="M1082.8 0H1233.3"/><rect class="c" x="1082.8" y="-5" width="6.3" height="10"/><rect class="c" x="1148.7" y="-5" width="11.7" height="10"/><rect class="u" x="1227.4" y="-5" width="5.9" height="10"/></g>
<g id="DcbHLH096" transform="translate(0 536.7)"><text class="lbl" x="254.5" y="3.6">DcbHLH096</text><path class="ln" d="M384.5 0H707.3"/><rect class="m3" x="536.5" y="-5" width="12.8" height="10"/><rect class="m1" x="550.7" y="-5" width="27.5" height="10"/><rect class="m2" x="580.1" y="-5" width="27.5" height="10"/><rect class="m15" x="664.6" y="-5" width="35.8" height="10"/><rect class="u" x="1082.8" y="-5" width="4.2" height="10"/><rect class="c" x="1087" y="-5" width="35.1" height="10"/></g>
<g id="DcbHLH102" transform="translate(0 551.5)"><text class="lbl" x="254.5" y="3.6">DcbHLH102</text><path class="ln" d="M384.5 0H594.8"/><rect class="m3" x="470.4" y="-5" width="12.8" height="10"/><rect class="m1" x="484.6" y="-5" width="27.5" height="10"/><rect class="m2" x="514" y="-5" width="27.5" height="10"/><path class="in" d="M1082.8 0H1135.4"/><rect class="c" x="1082.8" y="-5" width="17" height="10"/><rect class="c" x="1131.2" y="-5" width="4.2" height="10"/></g>
<g id="DcbHLH097" transform="translate(0 566.3)"><text class="lbl" x="254.5" y="3.6">DcbHLH097</text><path class="ln" d="M384.5 0H801.4"/><rect class="m19" x="473.6" y="-5" width="23.9" height="10"/><rect class="m3" x="610" y="-5" width="12.8" height="10"/><rect class="m1" x="623.7" y="-5" width="27.5" height="10"/><rect class="m2" x="653.6" y="-5" width="27.5" height="10"/><rect class="m15" x="756.9" y="-5" width="35.8" height="10"/><path class="in" d="M1082.8 0H1150.9"/><rect class="u" x="1082.8" y="-5" width="4.2" height="10"/><rect class="c" x="1087" y="-5" width="10" height="10"/><rect class="c" x="1101" y="-5" width="3" height="10"/><rect class="c" x="1110" y="-5" width="4" height="10"/><rect class="c" x="1118" y="-5" width="3" height="10"/><rect class="c" x="1136" y="-5" width="12" height="10"/><rect class="u" x="1148" y="-5" width="2.9" height="10"/></g>
<g id="DcbHLH098" transform="translate(0 581.1)"><text class="lbl" x="254.5" y="3.6">DcbHLH098</text><path class="ln" d="M384.5 0H863.4"/><rect class="m19" x="503" y="-5" width="23.9" height="10"/><rect class="m3" x="671.5" y="-5" width="12.8" height="10"/><rect class="m1" x="685.3" y="-5" width="27.5" height="10"/><rect class="m2" x="715.1" y="-5" width="27.5" height="10"/><rect class="m15" x="818.4" y="-5" width="35.8" height="10"/><path class="in" d="M1082.8 0H1172.7"/><rect class="u" x="1082.8" y="-5" width="7.4" height="10"/><rect class="c" x="1094.5" y="-5" width="23.5" height="10"/><rect class="u" x="1118" y="-5" width="2" height="10"/><rect class="c" x="1163" y="-5" width="7" height="10"/><rect class="u" x="1170" y="-5" width="2.7" height="10"/></g>
<g id="DcbHLH095" transform="translate(0 595.9)"><text class="lbl" x="254.5" y="3.6">DcbHLH095</text><path class="ln" d="M384.5 0H764.7"/><rect class="m19" x="475.4" y="-5" width="23.9" height="10"/><rect class="m3" x="577.4" y="-5" width="12.8" height="10"/><rect class="m1" x="591.6" y="-5" width="27.5" height="10"/><rect class="m2" x="621" y="-5" width="27.5" height="10"/><path class="in" d="M1082.8 0H1181.7"/><rect class="u" x="1082.8" y="-5" width="5.2" height="10"/><rect class="c" x="1088" y="-5" width="20.3" height="10"/><rect class="c" x="1127.4" y="-5" width="3.2" height="10"/><rect class="c" x="1176.4" y="-5" width="3.6" height="10"/><rect class="u" x="1180" y="-5" width="1.7" height="10"/></g>
<g id="DcbHLH088" transform="translate(0 610.7)"><text class="lbl" x="254.5" y="3.6">DcbHLH088</text><path class="ln" d="M384.5 0H473.6"/><rect class="m2" x="421.7" y="-5" width="28" height="10"/><rect class="c" x="1082.8" y="-5" width="12.7" height="10"/></g>
<g id="DcbHLH089" transform="translate(0 625.5)"><text class="lbl" x="254.5" y="3.6">DcbHLH089</text><path class="ln" d="M384.5 0H467"/><rect class="m1" x="386" y="-5" width="27.5" height="10"/><rect class="m2" x="414.5" y="-5" width="27.5" height="10"/><path class="in" d="M1082.8 0H1097.7"/><rect class="c" x="1082.8" y="-5" width="3.2" height="10"/><rect class="c" x="1091.3" y="-5" width="6.4" height="10"/></g>
<g id="DcbHLH086" transform="translate(0 640.3)"><text class="lbl" x="254.5" y="3.6">DcbHLH086</text><path class="ln" d="M384.5 0H658"/><rect class="m1" x="523" y="-5" width="27.5" height="10"/><rect class="m2" x="552" y="-5" width="27.5" height="10"/><rect class="m7" x="619" y="-5" width="26.6" height="10"/><path class="in" d="M1082.8 0H1156.2"/><rect class="c" x="1082.8" y="-5" width="23.4" height="10"/><rect class="c" x="1139" y="-5" width="1.5" height="10"/><rect class="c" x="1149.8" y="-5" width="6.4" height="10"/></g>
<g id="DcbHLH087" transform="translate(0 655.1)"><text class="lbl" x="254.5" y="3.6">DcbHLH087</text><path class="ln" d="M384.5 0H547"/><rect class="m1" x="492" y="-5" width="27.5" height="10"/><rect class="u" x="1082.8" y="-5" width="172.3" height="10"/><rect class="c" x="1255.1" y="-5" width="14.9" height="10"/><rect class="c" x="1272" y="-5" width="2.8" height="10"/></g>
<g id="DcbHLH076" transform="translate(0 669.9)"><text class="lbl" x="254.5" y="3.6">DcbHLH076</text><path class="ln" d="M384.5 0H748"/><rect class="m1" x="630" y="-5" width="27.5" height="10"/><rect class="m2" x="659" y="-5" width="27.5" height="10"/><rect class="m7" x="704" y="-5" width="26.6" height="10"/><path class="in" d="M1082.8 0H1156.2"/><rect class="u" x="1082.8" y="-5" width="3.2" height="10"/><rect class="c" x="1086" y="-5" width="14.9" height="10"/><rect class="c" x="1113.6" y="-5" width="3.2" height="10"/><rect class="c" x="1152.4" y="-5" width="3.8" height="10"/></g>
<g id="DcbHLH083" transform="translate(0 684.7)"><text class="lbl" x="254.5" y="3.6">DcbHLH083</text><path class="ln" d="M384.5 0H680"/><rect class="m1" x="571" y="-5" width="27.5" height="10"/><rect class="m2" x="600" y="-5" width="27.5" height="10"/><rect class="m7" x="637" y="-5" width="26.6" height="10"/><path class="in" d="M1082.5 0H1169"/><rect class="c" x="1082.5" y="-5" width="22.5" height="10"/><rect class="c" x="1111" y="-5" width="2" height="10"/><rect class="c" x="1123" y="-5" width="2" height="10"/><rect class="c" x="1135" y="-5" width="2" height="10"/><rect class="c" x="1160" y="-5" width="9" height="10"/></g>
<g id="DcbHLH084" transform="translate(0 699.5)"><text class="lbl" x="254.5" y="3.6">DcbHLH084</text><path class="ln" d="M384.5 0H716"/><rect class="m1" x="590" y="-5" width="27.5" height="10"/><rect class="m2" x="619" y="-5" width="27.5" height="10"/><rect class="m7" x="671" y="-5" width="26.6" height="10"/><path class="in" d="M1082.5 0H1145"/><rect class="c" x="1082.5" y="-5" width="27.5" height="10"/><rect class="c" x="1114" y="-5" width="16" height="10"/><rect class="c" x="1138" y="-5" width="7" height="10"/></g>
<g id="DcbHLH082" transform="translate(0 714.3)"><text class="lbl" x="254.5" y="3.6">DcbHLH082</text><path class="ln" d="M384.5 0H595"/><rect class="m1" x="483" y="-5" width="27.5" height="10"/><rect class="m2" x="512" y="-5" width="27.5" height="10"/><rect class="m7" x="553" y="-5" width="26.6" height="10"/><path class="in" d="M1082.5 0H1139"/><rect class="c" x="1082.5" y="-5" width="17.5" height="10"/><rect class="c" x="1105" y="-5" width="15" height="10"/><rect class="c" x="1133" y="-5" width="6" height="10"/></g>
<g id="DcbHLH085" transform="translate(0 729.1)"><text class="lbl" x="254.5" y="3.6">DcbHLH085</text><path class="ln" d="M384.5 0H753"/><rect class="m1" x="636" y="-5" width="27.5" height="10"/><rect class="m2" x="665" y="-5" width="27.5" height="10"/><rect class="m7" x="714" y="-5" width="26.6" height="10"/><path class="in" d="M1082.5 0H1362"/><rect class="c" x="1082.5" y="-5" width="10.5" height="10"/><rect class="c" x="1100" y="-5" width="5" height="10"/><rect class="c" x="1117" y="-5" width="6" height="10"/><rect class="c" x="1205" y="-5" width="5" height="10"/><rect class="c" x="1357" y="-5" width="3" height="10"/><rect class="u" x="1360" y="-5" width="2" height="10"/></g>
<g id="DcbHLH077" transform="translate(0 743.9)"><text class="lbl" x="254.5" y="3.6">DcbHLH077</text><path class="ln" d="M384.5 0H719"/><rect class="m1" x="604" y="-5" width="27.5" height="10"/><rect class="m2" x="633" y="-5" width="27.5" height="10"/><rect class="m7" x="674" y="-5" width="26.6" height="10"/><path class="in" d="M1082.5 0H1139"/><rect class="c" x="1082.5" y="-5" width="17.5" height="10"/><rect class="c" x="1110" y="-5" width="15" height="10"/><rect class="u" x="1128" y="-5" width="11" height="10"/></g>
<g id="DcbHLH080" transform="translate(0 758.7)"><text class="lbl" x="254.5" y="3.6">DcbHLH080</text><path class="ln" d="M384.5 0H680"/><rect class="m1" x="567" y="-5" width="27.5" height="10"/><rect class="m2" x="596" y="-5" width="27.5" height="10"/><rect class="m7" x="640" y="-5" width="26.6" height="10"/><path class="in" d="M1082.5 0H1127"/><rect class="c" x="1082.5" y="-5" width="22.5" height="10"/><rect class="c" x="1115" y="-5" width="12" height="10"/></g>
<g id="DcbHLH081" transform="translate(0 773.5)"><text class="lbl" x="254.5" y="3.6">DcbHLH081</text><path class="ln" d="M384.5 0H737"/><rect class="m1" x="617" y="-5" width="27.5" height="10"/><rect class="m2" x="646" y="-5" width="27.5" height="10"/><rect class="m7" x="692" y="-5" width="26.6" height="10"/><path class="in" d="M1082.5 0H1134"/><rect class="c" x="1082.5" y="-5" width="17.5" height="10"/><rect class="c" x="1112" y="-5" width="6" height="10"/><rect class="c" x="1128" y="-5" width="6" height="10"/></g>
<g id="DcbHLH078" transform="translate(0 788.3)"><text class="lbl" x="254.5" y="3.6">DcbHLH078</text><path class="ln" d="M384.5 0H529"/><rect class="m1" x="414" y="-5" width="27.5" height="10"/><rect class="m2" x="443" y="-5" width="27.5" height="10"/><rect class="m7" x="482" y="-5" width="26.6" height="10"/><rect class="c" x="1082.5" y="-5" width="6.5" height="10"/></g>
<g id="DcbHLH079" transform="translate(0 803.1)"><text class="lbl" x="254.5" y="3.6">DcbHLH079</text><path class="ln" d="M384.5 0H729"/><rect class="m1" x="611" y="-5" width="27.5" height="10"/><rect class="m2" x="640" y="-5" width="27.5" height="10"/><rect class="m7" x="682" y="-5" width="26.6" height="10"/><path class="in" d="M1082.5 0H1134"/><rect class="c" x="1082.5" y="-5" width="12.5" height="10"/><rect class="c" x="1104" y="-5" width="8" height="10"/><rect class="c" x="1126" y="-5" width="8" height="10"/></g>
<g id="DcbHLH090" transform="translate(0 817.9)"><text class="lbl" x="254.5" y="3.6">DcbHLH090</text><path class="ln" d="M384.5 0H559"/><rect class="m1" x="470" y="-5" width="27.5" height="10"/><rect class="m2" x="499" y="-5" width="27.5" height="10"/><rect class="c" x="1082.5" y="-5" width="12.5" height="10"/><rect class="u" x="1095" y="-5" width="8" height="10"/></g>
<g id="DcbHLH045" transform="translate(0 832.7)"><text class="lbl" x="254.5" y="3.6">DcbHLH045</text><path class="ln" d="M384.5 0H852"/><rect class="m1" x="542" y="-5" width="27.5" height="10"/><rect class="m2" x="571" y="-5" width="27.5" height="10"/><rect class="m20" x="759" y="-5" width="39.5" height="10"/><path class="in" d="M1082.5 0H1407"/><rect class="c" x="1082.5" y="-5" width="8.5" height="10"/><rect class="c" x="1196" y="-5" width="6" height="10"/><rect class="c" x="1356" y="-5" width="4" height="10"/><rect class="c" x="1369" y="-5" width="13" height="10"/><rect class="c" x="1396" y="-5" width="9" height="10"/><rect class="u" x="1405" y="-5" width="2" height="10"/></g>
<g id="DcbHLH047" transform="translate(0 847.5)"><text class="lbl" x="254.5" y="3.6">DcbHLH047</text><path class="ln" d="M384.5 0H668"/><rect class="m2" x="482" y="-5" width="27.5" height="10"/><rect class="m20" x="582" y="-5" width="39.5" height="10"/><path class="in" d="M1082.5 0H1411"/><rect class="c" x="1082.5" y="-5" width="6.5" height="10"/><rect class="c" x="1120" y="-5" width="2" height="10"/><rect class="c" x="1375" y="-5" width="4" height="10"/><rect class="c" x="1393" y="-5" width="5" height="10"/><rect class="c" x="1402" y="-5" width="5" height="10"/><rect class="u" x="1407" y="-5" width="4" height="10"/></g>
<g id="DcbHLH046" transform="translate(0 862.3)"><text class="lbl" x="254.5" y="3.6">DcbHLH046</text><path class="ln" d="M384.5 0H731"/><rect class="m1" x="435" y="-5" width="27.5" height="10"/><rect class="m2" x="464" y="-5" width="27.5" height="10"/><rect class="m20" x="656" y="-5" width="39.5" height="10"/><path class="in" d="M1082.5 0H1205"/><rect class="c" x="1082.5" y="-5" width="8.5" height="10"/><rect class="c" x="1112" y="-5" width="4" height="10"/><rect class="c" x="1184" y="-5" width="6" height="10"/><rect class="c" x="1200" y="-5" width="5" height="10"/></g>
<g id="DcbHLH043" transform="translate(0 877.1)"><text class="lbl" x="254.5" y="3.6">DcbHLH043</text><path class="ln" d="M384.5 0H625"/><rect class="m1" x="477" y="-5" width="27.5" height="10"/><rect class="m2" x="506" y="-5" width="27.5" height="10"/><path class="in" d="M1082.5 0H1117"/><rect class="c" x="1082.5" y="-5" width="9.5" height="10"/><rect class="c" x="1097" y="-5" width="13" height="10"/><rect class="c" x="1114" y="-5" width="3" height="10"/></g>
<g id="DcbHLH044" transform="translate(0 891.9)"><text class="lbl" x="254.5" y="3.6">DcbHLH044</text><path class="ln" d="M384.5 0H637"/><rect class="m1" x="491" y="-5" width="27.5" height="10"/><rect class="m2" x="520" y="-5" width="27.5" height="10"/><rect class="c" x="1082.5" y="-5" width="10.5" height="10"/><rect class="u" x="1093" y="-5" width="10" height="10"/></g>
<g id="DcbHLH041" transform="translate(0 906.7)"><text class="lbl" x="254.5" y="3.6">DcbHLH041</text><path class="ln" d="M384.5 0H820"/><rect class="m1" x="644" y="-5" width="27.5" height="10"/><rect class="m2" x="673" y="-5" width="27.5" height="10"/><path class="in" d="M1082.5 0H1139"/><rect class="c" x="1082.5" y="-5" width="10.5" height="10"/><rect class="c" x="1110" y="-5" width="7" height="10"/><rect class="c" x="1135" y="-5" width="4" height="10"/></g>
<g id="DcbHLH042" transform="translate(0 921.5)"><text class="lbl" x="254.5" y="3.6">DcbHLH042</text><path class="ln" d="M384.5 0H893"/><rect class="m16" x="500" y="-5" width="44" height="10"/><rect class="m1" x="720" y="-5" width="27.5" height="10"/><rect class="m2" x="749" y="-5" width="27.5" height="10"/><path class="in" d="M1082.5 0H1149"/><rect class="c" x="1082.5" y="-5" width="20.5" height="10"/><rect class="c" x="1108" y="-5" width="7" height="10"/><rect class="c" x="1130" y="-5" width="16" height="10"/><rect class="u" x="1146" y="-5" width="3" height="10"/></g>
<g id="DcbHLH040" transform="translate(0 936.3)"><text class="lbl" x="254.5" y="3.6">DcbHLH040</text><path class="ln" d="M384.5 0H534"/><rect class="m2" x="408" y="-5" width="27.5" height="10"/><rect class="m18" x="440" y="-5" width="33" height="10"/><rect class="m17" x="502" y="-5" width="32" height="10"/><path class="in" d="M1082.5 0H1117"/><rect class="u" x="1082.5" y="-5" width="7.5" height="10"/><rect class="c" x="1102" y="-5" width="15" height="10"/></g>
<g id="DcbHLH039" transform="translate(0 951.1)"><text class="lbl" x="254.5" y="3.6">DcbHLH039</text><path class="ln" d="M384.5 0H625"/><rect class="m1" x="435" y="-5" width="27.5" height="10"/><rect class="m2" x="464" y="-5" width="27.5" height="10"/><rect class="m18" x="493" y="-5" width="33" height="10"/><rect class="m17" x="593" y="-5" width="32" height="10"/><path class="in" d="M1082.5 0H1174"/><rect class="c" x="1082.5" y="-5" width="10.5" height="10"/><rect class="c" x="1119" y="-5" width="6" height="10"/><rect class="u" x="1163" y="-5" width="11" height="10"/></g>
<g id="DcbHLH038" transform="translate(0 965.9)"><text class="lbl" x="254.5" y="3.6">DcbHLH038</text><path class="ln" d="M384.5 0H616"/><rect class="m1" x="453" y="-5" width="27.5" height="10"/><rect class="m2" x="482" y="-5" width="27.5" height="10"/><rect class="m18" x="511" y="-5" width="33" height="10"/><rect class="m17" x="583" y="-5" width="32" height="10"/><path class="in" d="M1082.5 0H1186"/><rect class="c" x="1082.5" y="-5" width="6.5" height="10"/><rect class="c" x="1120" y="-5" width="3" height="10"/><rect class="c" x="1177" y="-5" width="9" height="10"/></g>
<g id="DcbHLH037" transform="translate(0 980.7)"><text class="lbl" x="254.5" y="3.6">DcbHLH037</text><path class="ln" d="M384.5 0H595"/><rect class="m1" x="446" y="-5" width="27.5" height="10"/><rect class="m2" x="475" y="-5" width="27.5" height="10"/><rect class="m18" x="505" y="-5" width="33" height="10"/><rect class="m17" x="562" y="-5" width="32" height="10"/><path class="in" d="M1082.5 0H1308"/><rect class="c" x="1082.5" y="-5" width="6.5" height="10"/><rect class="c" x="1240" y="-5" width="2" height="10"/><rect class="c" x="1290" y="-5" width="5" height="10"/><rect class="c" x="1303" y="-5" width="5" height="10"/></g>
<g id="DcbHLH035" transform="translate(0 995.5)"><text class="lbl" x="254.5" y="3.6">DcbHLH035</text><path class="ln" d="M384.5 0H607"/><rect class="m1" x="419" y="-5" width="27.5" height="10"/><rect class="m2" x="448" y="-5" width="27.5" height="10"/><rect class="m18" x="478" y="-5" width="33" height="10"/><path class="in" d="M1082.5 0H1117"/><rect class="u" x="1082.5" y="-5" width="7.5" height="10"/><rect class="c" x="1090" y="-5" width="18" height="10"/><rect class="c" x="1112" y="-5" width="5" height="10"/></g>
<g id="DcbHLH036" transform="translate(0 1010.3)"><text class="lbl" x="254.5" y="3.6">DcbHLH036</text><path class="ln" d="M384.5 0H735"/><rect class="m1" x="446" y="-5" width="27.5" height="10"/><rect class="m2" x="475" y="-5" width="27.5" height="10"/><rect class="m18" x="504" y="-5" width="33" height="10"/><path class="in" d="M1082.5 0H1818"/><rect class="c" x="1082.5" y="-5" width="4.5" height="10"/><rect class="c" x="1310" y="-5" width="2" height="10"/><rect class="c" x="1797" y="-5" width="15" height="10"/><rect class="u" x="1812" y="-5" width="6" height="10"/></g>
<g id="DcbHLH010" transform="translate(0 1025.1)"><text class="lbl" x="254.5" y="3.6">DcbHLH010</text><path class="ln" d="M384.5 0H656"/><rect class="m1" x="457" y="-5" width="27.5" height="10"/><rect class="m2" x="486" y="-5" width="27.5" height="10"/><rect class="m20" x="579" y="-5" width="39.5" height="10"/><path class="in" d="M1082.5 0H1117"/><rect class="c" x="1082.5" y="-5" width="7.5" height="10"/><rect class="c" x="1105" y="-5" width="12" height="10"/></g>
<g id="DcbHLH011" transform="translate(0 1039.9)"><text class="lbl" x="254.5" y="3.6">DcbHLH011</text><path class="ln" d="M384.5 0H672"/><rect class="m2" x="641" y="-5" width="29" height="10"/><rect class="u" x="1082.5" y="-5" width="12.5" height="10"/><rect class="c" x="1095" y="-5" width="25" height="10"/></g>
<g id="DcbHLH012" transform="translate(0 1054.7)"><text class="lbl" x="254.5" y="3.6">DcbHLH012</text><path class="ln" d="M384.5 0H672"/><rect class="m2" x="641" y="-5" width="29" height="10"/><rect class="u" x="1082.5" y="-5" width="12.5" height="10"/><rect class="c" x="1095" y="-5" width="25" height="10"/></g>
<g id="DcbHLH013" transform="translate(0 1069.5)"><text class="lbl" x="254.5" y="3.6">DcbHLH013</text><path class="ln" d="M384.5 0H561"/><rect class="m1" x="406" y="-5" width="27.5" height="10"/><rect class="m2" x="435" y="-5" width="27.5" height="10"/><rect class="m20" x="492" y="-5" width="39.5" height="10"/><rect class="c" x="1082.5" y="-5" width="15.5" height="10"/></g>
<g id="DcbHLH075" transform="translate(0 1084.3)"><text class="lbl" x="254.5" y="3.6">DcbHLH075</text><path class="ln" d="M384.5 0H743"/><rect class="m3" x="653" y="-5" width="12.8" height="10"/><rect class="m1" x="666" y="-5" width="27.5" height="10"/><rect class="m2" x="695" y="-5" width="27.5" height="10"/><rect class="u" x="1082.5" y="-5" width="7.5" height="10"/><rect class="c" x="1090" y="-5" width="25" height="10"/></g>
<g id="DcbHLH074" transform="translate(0 1099.1)"><text class="lbl" x="254.5" y="3.6">DcbHLH074</text><path class="ln" d="M384.5 0H797"/><rect class="m3" x="689" y="-5" width="12.8" height="10"/><rect class="m1" x="702" y="-5" width="27.5" height="10"/><rect class="m2" x="731" y="-5" width="27.5" height="10"/><rect class="m7" x="762" y="-5" width="26.6" height="10"/><rect class="u" x="1082.5" y="-5" width="5.5" height="10"/><rect class="c" x="1088" y="-5" width="32" height="10"/><rect class="u" x="1120" y="-5" width="6" height="10"/></g>
<g id="DcbHLH073" transform="translate(0 1113.9)"><text class="lbl" x="254.5" y="3.6">DcbHLH073</text><path class="ln" d="M384.5 0H761"/><rect class="m3" x="674" y="-5" width="12.8" height="10"/><rect class="m1" x="687" y="-5" width="27.5" height="10"/><rect class="m2" x="716" y="-5" width="27.5" height="10"/><path class="in" d="M1082.5 0H1308"/><rect class="c" x="1082.5" y="-5" width="6.5" height="10"/><rect class="c" x="1170" y="-5" width="5" height="10"/><rect class="c" x="1185" y="-5" width="4" height="10"/><rect class="c" x="1242" y="-5" width="5" height="10"/><rect class="c" x="1302" y="-5" width="4" height="10"/><rect class="u" x="1306" y="-5" width="2" height="10"/></g>
<g id="DcbHLH072" transform="translate(0 1128.7)"><text class="lbl" x="254.5" y="3.6">DcbHLH072</text><path class="ln" d="M384.5 0H731"/><rect class="m3" x="650" y="-5" width="12.8" height="10"/><rect class="m1" x="663" y="-5" width="27.5" height="10"/><rect class="m2" x="692" y="-5" width="27.5" height="10"/><path class="in" d="M1082.5 0H1194"/><rect class="c" x="1082.5" y="-5" width="6.5" height="10"/><rect class="c" x="1108" y="-5" width="6" height="10"/><rect class="c" x="1157" y="-5" width="9" height="10"/><rect class="c" x="1176" y="-5" width="10" height="10"/><rect class="u" x="1186" y="-5" width="8" height="10"/></g>
<g id="DcbHLH049" transform="translate(0 1143.5)"><text class="lbl" x="254.5" y="3.6">DcbHLH049</text><path class="ln" d="M384.5 0H631"/><rect class="m1" x="449" y="-5" width="27.5" height="10"/><rect class="m2" x="478" y="-5" width="27.5" height="10"/><rect class="m20" x="529" y="-5" width="39.5" height="10"/><path class="in" d="M1082.5 0H1123"/><rect class="c" x="1082.5" y="-5" width="6.5" height="10"/><rect class="c" x="1103" y="-5" width="13" height="10"/><rect class="u" x="1116" y="-5" width="7" height="10"/></g>
<g id="DcbHLH051" transform="translate(0 1158.3)"><text class="lbl" x="254.5" y="3.6">DcbHLH051</text><path class="ln" d="M384.5 0H707"/><rect class="m1" x="524" y="-5" width="27.5" height="10"/><rect class="m2" x="553" y="-5" width="27.5" height="10"/><rect class="m20" x="602" y="-5" width="39.5" height="10"/><rect class="u" x="1082.5" y="-5" width="9.5" height="10"/><rect class="c" x="1092" y="-5" width="38" height="10"/></g>
<g id="DcbHLH048" transform="translate(0 1173.1)"><text class="lbl" x="254.5" y="3.6">DcbHLH048</text><path class="ln" d="M384.5 0H622"/><rect class="m1" x="449" y="-5" width="27.5" height="10"/><rect class="m2" x="478" y="-5" width="27.5" height="10"/><rect class="m20" x="538" y="-5" width="39.5" height="10"/><path class="in" d="M1082.5 0H1153"/><rect class="c" x="1082.5" y="-5" width="3.5" height="10"/><rect class="c" x="1145" y="-5" width="8" height="10"/></g>
<g id="DcbHLH050" transform="translate(0 1187.9)"><text class="lbl" x="254.5" y="3.6">DcbHLH050</text><path class="ln" d="M384.5 0H522"/><rect class="m1" x="407" y="-5" width="27.5" height="10"/><rect class="m2" x="436" y="-5" width="27.5" height="10"/><rect class="m20" x="483" y="-5" width="39" height="10"/><rect class="c" x="1082.5" y="-5" width="7.5" height="10"/></g>
<g id="DcbHLH005" transform="translate(0 1202.7)"><text class="lbl" x="254.5" y="3.6">DcbHLH005</text><path class="ln" d="M384.5 0H695"/><rect class="m16" x="476" y="-5" width="22" height="10"/><rect class="m1" x="499" y="-5" width="27.5" height="10"/><rect class="m2" x="527" y="-5" width="27.5" height="10"/><rect class="m4" x="603" y="-5" width="27.5" height="10"/><rect class="m8" x="631" y="-5" width="26.7" height="10"/><path class="in" d="M1082.5 0H1117"/><rect class="c" x="1082.5" y="-5" width="7.5" height="10"/><rect class="c" x="1101" y="-5" width="9" height="10"/><rect class="u" x="1110" y="-5" width="7" height="10"/></g>
<g id="DcbHLH006" transform="translate(0 1217.5)"><text class="lbl" x="254.5" y="3.6">DcbHLH006</text><path class="ln" d="M384.5 0H677"/><rect class="m16" x="469" y="-5" width="20" height="10"/><rect class="m1" x="490" y="-5" width="27.5" height="10"/><rect class="m2" x="518" y="-5" width="27.5" height="10"/><rect class="m4" x="587" y="-5" width="27.5" height="10"/><rect class="m8" x="616" y="-5" width="26.7" height="10"/><rect class="u" x="1082.5" y="-5" width="7.5" height="10"/><rect class="c" x="1090" y="-5" width="27" height="10"/></g>
<g id="DcbHLH007" transform="translate(0 1232.3)"><text class="lbl" x="254.5" y="3.6">DcbHLH007</text><path class="ln" d="M384.5 0H707"/><rect class="m6" x="481" y="-5" width="16" height="10"/><rect class="m1" x="498" y="-5" width="27.5" height="10"/><rect class="m2" x="527" y="-5" width="27.5" height="10"/><rect class="m4" x="620" y="-5" width="27.5" height="10"/><rect class="m8" x="649" y="-5" width="26.7" height="10"/><path class="in" d="M1082.5 0H1132"/><rect class="c" x="1082.5" y="-5" width="6.5" height="10"/><rect class="c" x="1101" y="-5" width="7" height="10"/><rect class="c" x="1125" y="-5" width="7" height="10"/></g>
<g id="DcbHLH009" transform="translate(0 1247.1)"><text class="lbl" x="254.5" y="3.6">DcbHLH009</text><path class="ln" d="M384.5 0H674"/><rect class="m16" x="453" y="-5" width="20" height="10"/><rect class="m1" x="474" y="-5" width="27.5" height="10"/><rect class="m2" x="503" y="-5" width="27.5" height="10"/><rect class="m17" x="561" y="-5" width="32" height="10"/><rect class="m4" x="594" y="-5" width="27.5" height="10"/><rect class="m8" x="623" y="-5" width="26.7" height="10"/><path class="in" d="M1082.5 0H1132"/><rect class="c" x="1082.5" y="-5" width="6.5" height="10"/><rect class="c" x="1096" y="-5" width="5" height="10"/><rect class="c" x="1126" y="-5" width="6" height="10"/></g>
<g id="DcbHLH008" transform="translate(0 1261.9)"><text class="lbl" x="254.5" y="3.6">DcbHLH008</text><path class="ln" d="M384.5 0H650"/><rect class="m16" x="462" y="-5" width="21" height="10"/><rect class="m1" x="484" y="-5" width="27.5" height="10"/><rect class="m2" x="513" y="-5" width="27.5" height="10"/><rect class="m4" x="572" y="-5" width="27.5" height="10"/><rect class="m8" x="601" y="-5" width="26.7" height="10"/><rect class="c" x="1082.5" y="-5" width="7.5" height="10"/></g>
<g id="DcbHLH004" transform="translate(0 1276.7)"><text class="lbl" x="254.5" y="3.6">DcbHLH004</text><path class="ln" d="M384.5 0H765"/><rect class="m16" x="539" y="-5" width="20" height="10"/><rect class="m1" x="560" y="-5" width="27.5" height="10"/><rect class="m2" x="589" y="-5" width="27.5" height="10"/><rect class="m4" x="675" y="-5" width="27.5" height="10"/><rect class="m8" x="704" y="-5" width="26.7" height="10"/><path class="in" d="M1082.5 0H1168"/><rect class="c" x="1082.5" y="-5" width="6.5" height="10"/><rect class="c" x="1100" y="-5" width="6" height="10"/><rect class="c" x="1140" y="-5" width="7" height="10"/><rect class="c" x="1162" y="-5" width="6" height="10"/></g>
<g id="DcbHLH003" transform="translate(0 1291.5)"><text class="lbl" x="254.5" y="3.6">DcbHLH003</text><path class="ln" d="M384.5 0H632"/><rect class="m16" x="440" y="-5" width="21" height="10"/><rect class="m1" x="462" y="-5" width="27.5" height="10"/><rect class="m2" x="491" y="-5" width="27.5" height="10"/><rect class="m4" x="566" y="-5" width="27.5" height="10"/><rect class="m8" x="595" y="-5" width="26.7" height="10"/><rect class="c" x="1082.5" y="-5" width="23.5" height="10"/></g>
<g id="DcbHLH002" transform="translate(0 1306.3)"><text class="lbl" x="254.5" y="3.6">DcbHLH002</text><path class="ln" d="M384.5 0H596"/><rect class="m7" x="386" y="-5" width="26.6" height="10"/><rect class="m1" x="415" y="-5" width="27.5" height="10"/><rect class="m16" x="539" y="-5" width="27" height="10"/><rect class="m4" x="567" y="-5" width="27.5" height="10"/><path class="in" d="M1082.5 0H1158"/><rect class="c" x="1082.5" y="-5" width="6.5" height="10"/><rect class="c" x="1097" y="-5" width="6" height="10"/><rect class="c" x="1156" y="-5" width="2" height="10"/></g>
<g id="DcbHLH001" transform="translate(0 1321.1)"><text class="lbl" x="254.5" y="3.6">DcbHLH001</text><path class="ln" d="M384.5 0H548"/><rect class="m1" x="386" y="-5" width="27.5" height="10"/><rect class="m2" x="415" y="-5" width="27.5" height="10"/><rect class="m16" x="493" y="-5" width="27" height="10"/><rect class="m8" x="520" y="-5" width="26.7" height="10"/><path class="in" d="M1082.5 0H1134"/><rect class="c" x="1082.5" y="-5" width="6.5" height="10"/><rect class="c" x="1097" y="-5" width="6" height="10"/><rect class="c" x="1132" y="-5" width="2" height="10"/></g>
<g id="DcbHLH014" transform="translate(0 1335.9)"><text class="lbl" x="254.5" y="3.6">DcbHLH014</text><path class="ln" d="M384.5 0H720"/><rect class="m1" x="532" y="-5" width="27.5" height="10"/><rect class="m2" x="561" y="-5" width="27.5" height="10"/><rect class="m4" x="640" y="-5" width="27.5" height="10"/><rect class="m8" x="669" y="-5" width="26.7" height="10"/><path class="in" d="M1082.5 0H1107"/><rect class="c" x="1082.5" y="-5" width="7.5" height="10"/><rect class="c" x="1100" y="-5" width="7" height="10"/></g>
<g id="DcbHLH015" transform="translate(0 1350.7)"><text class="lbl" x="254.5" y="3.6">DcbHLH015</text><path class="ln" d="M384.5 0H627.9"/><rect class="m14" x="473.6" y="-5" width="97.8" height="10"/><rect class="m1" x="599.4" y="-5" width="27.5" height="10"/><rect class="c" x="1082.5" y="-5" width="7.5" height="10"/></g>
<g id="DcbHLH016" transform="translate(0 1365.5)"><text class="lbl" x="254.5" y="3.6">DcbHLH016</text><path class="ln" d="M384.5 0H745.9"/><rect class="m14" x="413.9" y="-5" width="98.3" height="10"/><rect class="m1" x="541.1" y="-5" width="27.5" height="10"/><rect class="m2" x="569.6" y="-5" width="27.5" height="10"/><rect class="m4" x="656.8" y="-5" width="27.5" height="10"/><rect class="m8" x="687.6" y="-5" width="26.7" height="10"/><path class="in" d="M1082.5 0H1117"/><rect class="c" x="1082.5" y="-5" width="7.5" height="10"/><rect class="c" x="1100" y="-5" width="17" height="10"/></g>
<g id="DcbHLH032" transform="translate(0 1380.3)"><text class="lbl" x="254.5" y="3.6">DcbHLH032</text><path class="ln" d="M384.5 0H710.5"/><rect class="m1" x="533.8" y="-5" width="27.5" height="10"/><rect class="m2" x="562.7" y="-5" width="27.5" height="10"/><rect class="m4" x="627.9" y="-5" width="27.5" height="10"/><path class="in" d="M1082.5 0H1117"/><rect class="c" x="1082.5" y="-5" width="6.5" height="10"/><rect class="c" x="1097" y="-5" width="6" height="10"/><rect class="c" x="1107" y="-5" width="10" height="10"/></g>
<g id="DcbHLH033" transform="translate(0 1395.1)"><text class="lbl" x="254.5" y="3.6">DcbHLH033</text><path class="ln" d="M384.5 0H745.9"/><rect class="m1" x="562.7" y="-5" width="27.5" height="10"/><rect class="m2" x="591.6" y="-5" width="27.5" height="10"/><rect class="m4" x="664.1" y="-5" width="27.5" height="10"/><path class="in" d="M1082.5 0H1118"/><rect class="u" x="1082.5" y="-5" width="7.5" height="10"/><rect class="c" x="1090" y="-5" width="14" height="10"/><rect class="c" x="1110" y="-5" width="8" height="10"/></g>
<g id="DcbHLH034" transform="translate(0 1409.9)"><text class="lbl" x="254.5" y="3.6">DcbHLH034</text><path class="ln" d="M384.5 0H715.6"/><rect class="m1" x="526.9" y="-5" width="27.5" height="10"/><rect class="m2" x="555.8" y="-5" width="27.5" height="10"/><rect class="m4" x="632" y="-5" width="27.5" height="10"/><path class="in" d="M1082.5 0H1142"/><rect class="c" x="1082.5" y="-5" width="13.5" height="10"/><rect class="c" x="1101" y="-5" width="15" height="10"/><rect class="u" x="1136" y="-5" width="6" height="10"/></g>
<g id="DcbHLH029" transform="translate(0 1424.7)"><text class="lbl" x="254.5" y="3.6">DcbHLH029</text><path class="ln" d="M384.5 0H1024.1"/><rect class="m9" x="391.4" y="-5" width="31.7" height="10"/><rect class="m12" x="427.2" y="-5" width="9.2" height="10"/><rect class="m6" x="488.3" y="-5" width="35.8" height="10"/><rect class="m5" x="532.8" y="-5" width="45.5" height="10"/><rect class="m1" x="825.3" y="-5" width="27.5" height="10"/><rect class="m2" x="854.2" y="-5" width="27.5" height="10"/><rect class="m4" x="942.4" y="-5" width="27.5" height="10"/><path class="in" d="M1082.5 0H1229"/><rect class="c" x="1082.5" y="-5" width="13.5" height="10"/><rect class="c" x="1180" y="-5" width="10" height="10"/><rect class="c" x="1196" y="-5" width="12" height="10"/><rect class="c" x="1214" y="-5" width="15" height="10"/></g>
<g id="DcbHLH030" transform="translate(0 1439.5)"><text class="lbl" x="254.5" y="3.6">DcbHLH030</text><path class="ln" d="M384.5 0H1032.4"/><rect class="m9" x="392.3" y="-5" width="31.7" height="10"/><rect class="m12" x="428.2" y="-5" width="9.1" height="10"/><rect class="m6" x="488.3" y="-5" width="35.8" height="10"/><rect class="m5" x="532.8" y="-5" width="45.5" height="10"/><rect class="m1" x="831.3" y="-5" width="27.5" height="10"/><rect class="m2" x="860.2" y="-5" width="27.5" height="10"/><rect class="m4" x="948.4" y="-5" width="27.5" height="10"/><rect class="m8" x="979.1" y="-5" width="26.7" height="10"/><path class="in" d="M1082.5 0H1299"/><rect class="c" x="1082.5" y="-5" width="10.5" height="10"/><rect class="c" x="1105" y="-5" width="4" height="10"/><rect class="c" x="1245" y="-5" width="5" height="10"/><rect class="c" x="1262" y="-5" width="12" height="10"/><rect class="c" x="1286" y="-5" width="13" height="10"/></g>
<g id="DcbHLH031" transform="translate(0 1454.3)"><text class="lbl" x="254.5" y="3.6">DcbHLH031</text><path class="ln" d="M384.5 0H1041.6"/><rect class="m12" x="427.2" y="-5" width="9.2" height="10"/><rect class="m6" x="489.2" y="-5" width="35.8" height="10"/><rect class="m5" x="533.8" y="-5" width="45.9" height="10"/><rect class="m1" x="832.2" y="-5" width="27.5" height="10"/><rect class="m2" x="861.1" y="-5" width="27.5" height="10"/><rect class="m16" x="936.4" y="-5" width="20.2" height="10"/><rect class="m4" x="959.8" y="-5" width="27.5" height="10"/><rect class="m8" x="991" y="-5" width="26.7" height="10"/><path class="in" d="M1082.5 0H1160"/><rect class="c" x="1082.5" y="-5" width="7.5" height="10"/><rect class="c" x="1107" y="-5" width="5" height="10"/><rect class="c" x="1120" y="-5" width="4" height="10"/><rect class="c" x="1134" y="-5" width="6" height="10"/><rect class="c" x="1147" y="-5" width="13" height="10"/></g>
<g id="DcbHLH018" transform="translate(0 1469.1)"><text class="lbl" x="254.5" y="3.6">DcbHLH018</text><path class="ln" d="M384.5 0H675.2"/><rect class="m1" x="504.4" y="-5" width="27.5" height="10"/><rect class="m2" x="533.3" y="-5" width="27.5" height="10"/><rect class="m20" x="599.4" y="-5" width="39.5" height="10"/><path class="in" d="M1082.5 0H1106"/><rect class="c" x="1082.5" y="-5" width="6.5" height="10"/><rect class="c" x="1100" y="-5" width="6" height="10"/></g>
<g id="DcbHLH017" transform="translate(0 1483.9)"><text class="lbl" x="254.5" y="3.6">DcbHLH017</text><path class="ln" d="M384.5 0H912.1"/><rect class="m1" x="724.8" y="-5" width="27.5" height="10"/><rect class="m2" x="754.1" y="-5" width="27.5" height="10"/><rect class="m20" x="837.2" y="-5" width="39.5" height="10"/><path class="in" d="M1082.5 0H1127"/><rect class="u" x="1082.5" y="-5" width="7.5" height="10"/><rect class="c" x="1090" y="-5" width="10" height="10"/><rect class="c" x="1107" y="-5" width="7" height="10"/><rect class="c" x="1121" y="-5" width="6" height="10"/></g>
<g id="DcbHLH019" transform="translate(0 1498.7)"><text class="lbl" x="254.5" y="3.6">DcbHLH019</text><path class="ln" d="M384.5 0H635.2"/><rect class="m1" x="440.1" y="-5" width="27.5" height="10"/><rect class="m2" x="469" y="-5" width="27.5" height="10"/><rect class="m8" x="575.5" y="-5" width="26.7" height="10"/><path class="in" d="M1082.5 0H1118"/><rect class="c" x="1082.5" y="-5" width="10.5" height="10"/><rect class="c" x="1099" y="-5" width="7" height="10"/><rect class="c" x="1114" y="-5" width="4" height="10"/></g>
<g id="DcbHLH021" transform="translate(0 1513.5)"><text class="lbl" x="254.5" y="3.6">DcbHLH021</text><path class="ln" d="M384.5 0H880"/><rect class="m20" x="427.7" y="-5" width="39.9" height="10"/><rect class="m12" x="473.6" y="-5" width="9.6" height="10"/><rect class="m6" x="524.1" y="-5" width="35.8" height="10"/><rect class="m5" x="567.7" y="-5" width="45.5" height="10"/><rect class="m11" x="716.5" y="-5" width="19.3" height="10"/><rect class="m1" x="737.6" y="-5" width="27.5" height="10"/><rect class="m2" x="766.5" y="-5" width="27.5" height="10"/><rect class="m4" x="796.4" y="-5" width="27.5" height="10"/><rect class="m8" x="827.1" y="-5" width="26.7" height="10"/><rect class="c" x="1082.5" y="-5" width="25.5" height="10"/></g>
<g id="DcbHLH020" transform="translate(0 1528.3)"><text class="lbl" x="254.5" y="3.6">DcbHLH020</text><path class="ln" d="M384.5 0H938.3"/><rect class="m20" x="421.7" y="-5" width="40" height="10"/><rect class="m12" x="467.6" y="-5" width="9.7" height="10"/><rect class="m6" x="524.1" y="-5" width="35.8" height="10"/><rect class="m5" x="563.6" y="-5" width="45.4" height="10"/><rect class="m11" x="768.4" y="-5" width="20.2" height="10"/><rect class="m1" x="790" y="-5" width="27.5" height="10"/><rect class="m2" x="818.9" y="-5" width="27.5" height="10"/><rect class="m4" x="857" y="-5" width="27.5" height="10"/><rect class="m8" x="887.7" y="-5" width="26.7" height="10"/><rect class="c" x="1082.5" y="-5" width="25.5" height="10"/><rect class="u" x="1108" y="-5" width="106" height="10"/></g>
<g id="DcbHLH023" transform="translate(0 1543.1)"><text class="lbl" x="254.5" y="3.6">DcbHLH023</text><path class="ln" d="M384.5 0H800.5"/><rect class="m9" x="420.3" y="-5" width="31.7" height="10"/><rect class="m12" x="454.3" y="-5" width="9.7" height="10"/><rect class="m6" x="475.4" y="-5" width="35.9" height="10"/><rect class="m5" x="521.4" y="-5" width="45.4" height="10"/><rect class="m11" x="613.6" y="-5" width="19.3" height="10"/><rect class="m1" x="634.3" y="-5" width="27.5" height="10"/><rect class="m2" x="663.2" y="-5" width="27.5" height="10"/><rect class="m4" x="719.7" y="-5" width="27.5" height="10"/><rect class="m8" x="750" y="-5" width="26.6" height="10"/><rect class="c" x="1082.5" y="-5" width="20.5" height="10"/></g>
<g id="DcbHLH022" transform="translate(0 1557.9)"><text class="lbl" x="254.5" y="3.6">DcbHLH022</text><path class="ln" d="M384.5 0H803.7"/><rect class="m9" x="421.7" y="-5" width="31.7" height="10"/><rect class="m12" x="457.1" y="-5" width="9.6" height="10"/><rect class="m6" x="487.4" y="-5" width="35.8" height="10"/><rect class="m5" x="532.8" y="-5" width="45.5" height="10"/><rect class="m11" x="621.9" y="-5" width="20.2" height="10"/><rect class="m1" x="643" y="-5" width="27.5" height="10"/><rect class="m2" x="672" y="-5" width="27.5" height="10"/><rect class="m4" x="723.8" y="-5" width="27.5" height="10"/><rect class="m8" x="755.1" y="-5" width="26.6" height="10"/><rect class="c" x="1082.5" y="-5" width="22.5" height="10"/></g>
<g id="DcbHLH024" transform="translate(0 1572.7)"><text class="lbl" x="254.5" y="3.6">DcbHLH024</text><path class="ln" d="M384.5 0H763.3"/><rect class="m9" x="395.1" y="-5" width="31.7" height="10"/><rect class="m12" x="430" y="-5" width="9.6" height="10"/><rect class="m6" x="445.6" y="-5" width="35.8" height="10"/><rect class="m5" x="491.5" y="-5" width="45.5" height="10"/><rect class="m1" x="590.7" y="-5" width="27.5" height="10"/><rect class="m2" x="619.6" y="-5" width="27.5" height="10"/><rect class="m4" x="683" y="-5" width="27.5" height="10"/><rect class="m8" x="713.7" y="-5" width="26.7" height="10"/><rect class="c" x="1082.5" y="-5" width="17.5" height="10"/></g>
<g id="DcbHLH025" transform="translate(0 1587.5)"><text class="lbl" x="254.5" y="3.6">DcbHLH025</text><path class="ln" d="M384.5 0H843.7"/><rect class="m9" x="425.9" y="-5" width="31.6" height="10"/><rect class="m12" x="459.8" y="-5" width="9.7" height="10"/><rect class="m6" x="509.9" y="-5" width="35.8" height="10"/><rect class="m5" x="554.4" y="-5" width="45.5" height="10"/><rect class="m11" x="645.8" y="-5" width="20.2" height="10"/><rect class="m1" x="666.9" y="-5" width="27.5" height="10"/><rect class="m2" x="695.8" y="-5" width="27.5" height="10"/><rect class="m4" x="753.2" y="-5" width="27.5" height="10"/><rect class="m8" x="783.5" y="-5" width="26.7" height="10"/><rect class="c" x="1082.5" y="-5" width="22.5" height="10"/></g>
<g id="DcbHLH026" transform="translate(0 1602.3)"><text class="lbl" x="254.5" y="3.6">DcbHLH026</text><path class="ln" d="M384.5 0H1031"/><rect class="m9" x="435" y="-5" width="31.7" height="10"/><rect class="m12" x="473.6" y="-5" width="9.6" height="10"/><rect class="m6" x="529.2" y="-5" width="35.8" height="10"/><rect class="m5" x="573.7" y="-5" width="45.5" height="10"/><rect class="m11" x="816.6" y="-5" width="20.2" height="10"/><rect class="m1" x="837.7" y="-5" width="27.5" height="10"/><rect class="m2" x="866.6" y="-5" width="27.5" height="10"/><rect class="m4" x="930.4" y="-5" width="27.5" height="10"/><rect class="m8" x="960.7" y="-5" width="26.7" height="10"/><rect class="u" x="1082.6" y="-5" width="1.6" height="10"/><rect class="c" x="1084.2" y="-5" width="28.5" height="10"/></g>
<g id="DcbHLH028" transform="translate(0 1617.1)"><text class="lbl" x="254.5" y="3.6">DcbHLH028</text><path class="ln" d="M384.5 0H1036"/><rect class="m9" x="436" y="-5" width="31.6" height="10"/><rect class="m12" x="474.5" y="-5" width="9.7" height="10"/><rect class="m6" x="531.9" y="-5" width="35.8" height="10"/><rect class="m5" x="576.5" y="-5" width="45.4" height="10"/><rect class="m11" x="830.4" y="-5" width="20.2" height="10"/><rect class="m1" x="851.5" y="-5" width="27.5" height="10"/><rect class="m2" x="880.4" y="-5" width="27.5" height="10"/><rect class="m4" x="952.5" y="-5" width="27.5" height="10"/><rect class="m8" x="982.8" y="-5" width="26.6" height="10"/><rect class="u" x="1082.6" y="-5" width="1.6" height="10"/><rect class="c" x="1084.2" y="-5" width="30.7" height="10"/></g>
<g id="DcbHLH027" transform="translate(0 1631.9)"><text class="lbl" x="254.5" y="3.6">DcbHLH027</text><path class="ln" d="M384.5 0H1015.8"/><rect class="m9" x="420.3" y="-5" width="31.7" height="10"/><rect class="m12" x="458.5" y="-5" width="9.6" height="10"/><rect class="m6" x="515.4" y="-5" width="35.8" height="10"/><rect class="m5" x="559.9" y="-5" width="45.5" height="10"/><rect class="m11" x="821.6" y="-5" width="19.3" height="10"/><rect class="m1" x="842.3" y="-5" width="27.5" height="10"/><rect class="m2" x="871.2" y="-5" width="27.5" height="10"/><rect class="m4" x="933.7" y="-5" width="27.5" height="10"/><rect class="m8" x="964.4" y="-5" width="26.6" height="10"/><rect class="u" x="1082.6" y="-5" width="1.6" height="10"/><rect class="c" x="1084.2" y="-5" width="29.6" height="10"/></g>
</g>
<g id="axes">
<path class="axl" d="M329 1646H1021M329 1646V1651M427.9 1646V1650M526.7 1646V1650M625.6 1646V1650M724.4 1646V1650M823.3 1646V1650M922.2 1646V1650M1021 1646V1651"/>
<path class="axl" d="M1026 1646H1824M1026 1646V1651M1092.5 1646V1650M1159.1 1646V1650M1225.6 1646V1650M1292.2 1646V1650M1358.7 1646V1650M1425.3 1646V1650M1491.8 1646V1650M1558.4 1646V1650M1624.9 1646V1650M1691.5 1646V1650M1758 1646V1650M1824 1646V1651"/>
<text class="ax" x="331" y="1643">5'</text><text class="ax" x="1016" y="1643">3'</text><text class="ax" x="1029" y="1643">5'</text><text class="ax" x="1825" y="1641">3'</text>
<text class="ax" x="329" y="1660">0</text><text class="ax" x="427.9" y="1660">100</text><text class="ax" x="526.7" y="1660">200</text><text class="ax" x="625.6" y="1660">300</text><text class="ax" x="724.4" y="1660">400</text><text class="ax" x="823.3" y="1660">500</text><text class="ax" x="922.2" y="1660">600</text><text class="ax" x="1019" y="1660">700</text>
<text class="ax" x="1026" y="1660">0</text><text class="ax" x="1092.5" y="1660">5000</text><text class="ax" x="1159.1" y="1660">10000</text><text class="ax" x="1225.6" y="1660">15000</text><text class="ax" x="1292.2" y="1660">20000</text><text class="ax" x="1358.7" y="1660">25000</text><text class="ax" x="1425.3" y="1660">30000</text><text class="ax" x="1491.8" y="1660">35000</text><text class="ax" x="1558.4" y="1660">40000</text><text class="ax" x="1624.9" y="1660">45000</text><text class="ax" x="1691.5" y="1660">50000</text><text class="ax" x="1758" y="1660">55000</text><text class="ax" x="1824" y="1660">60000</text>
</g>
<g id="legend">
<rect class="m1" x="1835" y="41" width="24" height="10"/><text class="lg" x="1862.5" y="49.5">Motif 1</text>
<rect class="m2" x="1835" y="53.9" width="24" height="10"/><text class="lg" x="1862.5" y="62.4">Motif 2</text>
<rect class="m3" x="1835" y="66.8" width="24" height="10"/><text class="lg" x="1862.5" y="75.3">Motif 3</text>
<rect class="m10" x="1835" y="79.7" width="24" height="10"/><text class="lg" x="1862.5" y="88.2">Motif 10</text>
<rect class="m13" x="1835" y="92.6" width="24" height="10"/><text class="lg" x="1862.5" y="101.1">Motif 13</text>
<rect class="m7" x="1835" y="105.5" width="24" height="10"/><text class="lg" x="1862.5" y="114">Motif 7</text>
<rect class="m19" x="1835" y="118.4" width="24" height="10"/><text class="lg" x="1862.5" y="126.9">Motif 19</text>
<rect class="m16" x="1835" y="131.3" width="24" height="10"/><text class="lg" x="1862.5" y="139.8">Motif 16</text>
<rect class="m15" x="1835" y="144.2" width="24" height="10"/><text class="lg" x="1862.5" y="152.7">Motif 15</text>
<rect class="m20" x="1835" y="157.1" width="24" height="10"/><text class="lg" x="1862.5" y="165.6">Motif 20</text>
<rect class="m5" x="1835" y="170" width="24" height="10"/><text class="lg" x="1862.5" y="178.5">Motif 5</text>
<rect class="m18" x="1835" y="182.9" width="24" height="10"/><text class="lg" x="1862.5" y="191.4">Motif 18</text>
<rect class="m17" x="1835" y="195.8" width="24" height="10"/><text class="lg" x="1862.5" y="204.3">Motif 17</text>
<rect class="m4" x="1835" y="208.7" width="24" height="10"/><text class="lg" x="1862.5" y="217.2">Motif 4</text>
<rect class="m8" x="1835" y="221.6" width="24" height="10"/><text class="lg" x="1862.5" y="230.1">Motif 8</text>
<rect class="m14" x="1835" y="234.5" width="24" height="10"/><text class="lg" x="1862.5" y="243">Motif 14</text>
<rect class="m9" x="1835" y="247.4" width="24" height="10"/><text class="lg" x="1862.5" y="255.9">Motif 9</text>
<rect class="m12" x="1835" y="260.3" width="24" height="10"/><text class="lg" x="1862.5" y="268.8">Motif 12</text>
<rect class="m6" x="1835" y="273.2" width="24" height="10"/><text class="lg" x="1862.5" y="281.7">Motif 6</text>
<rect class="m11" x="1835" y="286.1" width="24" height="10"/><text class="lg" x="1862.5" y="294.6">Motif 11</text>
<rect class="u" x="1835" y="320" width="24" height="10"/><text class="lg" x="1862.5" y="328.5">UTR</text>
<rect class="c" x="1835" y="333.3" width="24" height="10"/><text class="lg" x="1862.5" y="341.8">CDS</text>
</g>
</svg>
